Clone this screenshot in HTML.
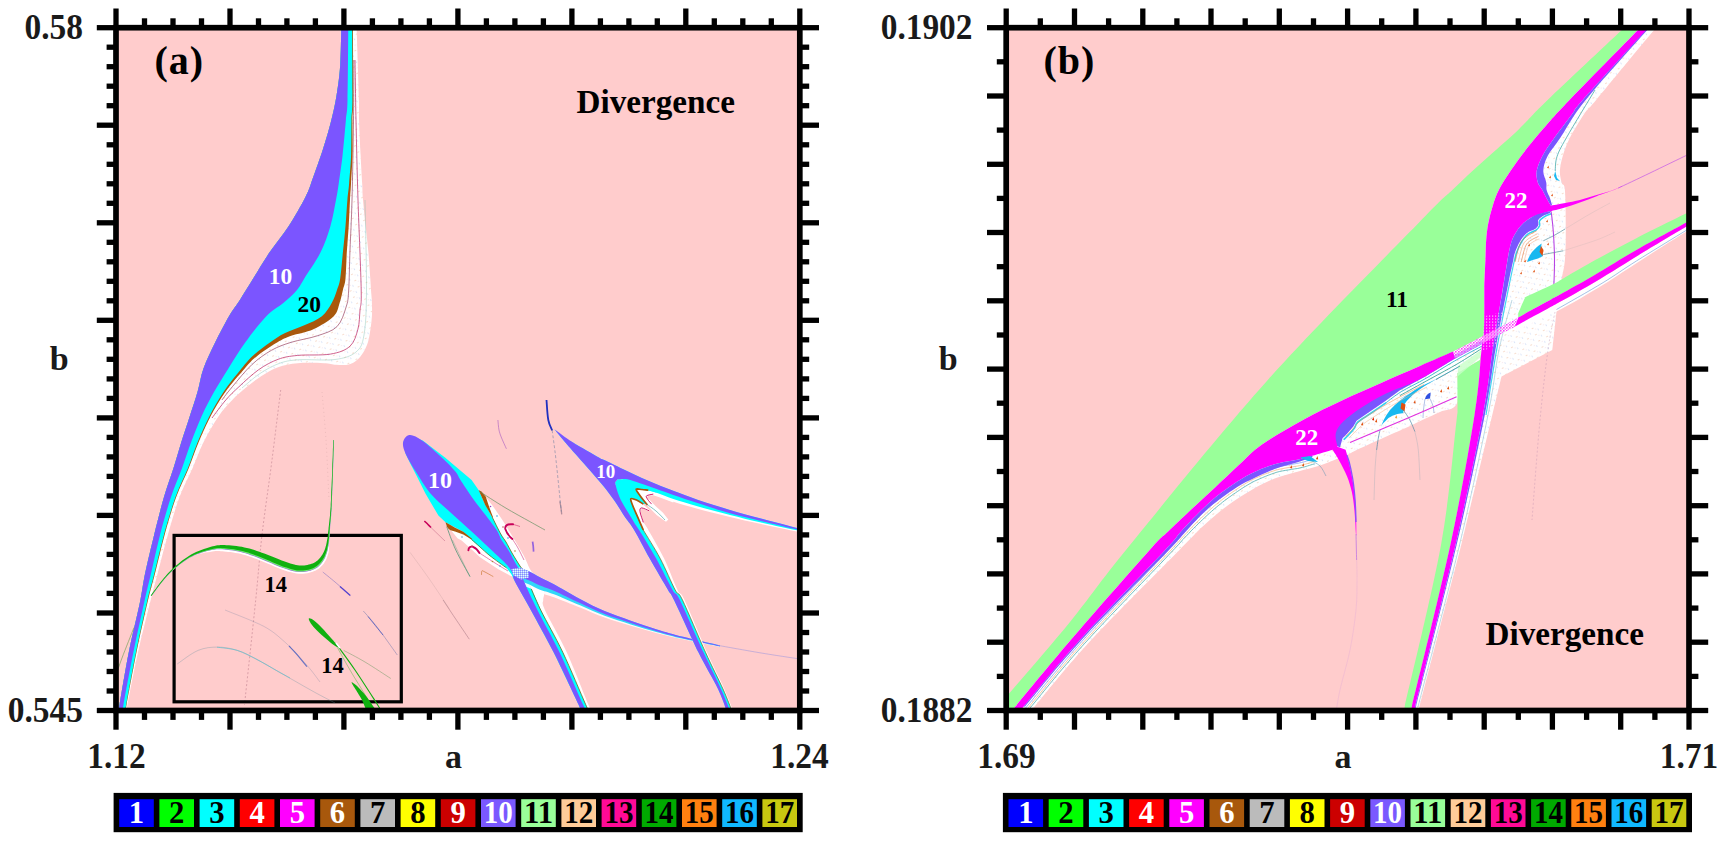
<!DOCTYPE html>
<html><head><meta charset="utf-8"><title>Figure</title>
<style>html,body{margin:0;padding:0;background:#fff}svg{display:block}</style></head>
<body>
<svg width="1725" height="841" viewBox="0 0 1725 841" font-family="'Liberation Serif', serif" font-weight="bold">
<defs><clipPath id="ca"><rect x="116" y="27.7" width="683.8" height="682.8"/></clipPath><clipPath id="cb"><rect x="1006.2" y="27.7" width="682.8" height="682.8"/></clipPath><pattern id="stip" width="3" height="3" patternUnits="userSpaceOnUse"><rect width="3" height="3" fill="#fff" opacity="0.55"/><rect width="1.6" height="1.6" fill="#FF40FF"/><rect x="1.6" y="1.6" width="1.4" height="1.4" fill="#FF70FF"/></pattern><pattern id="stipx" width="2" height="2" patternUnits="userSpaceOnUse"><rect width="2" height="2" fill="#A8C8FF"/><rect width="1" height="1" fill="#8888FF"/><rect x="1" y="1" width="1" height="1" fill="#E8F4FF"/></pattern><pattern id="dots" width="9" height="7" patternUnits="userSpaceOnUse" patternTransform="rotate(-28)"><circle cx="2" cy="1.5" r="0.55" fill="#E07030" opacity="0.55"/><circle cx="6.5" cy="5" r="0.5" fill="#5080E0" opacity="0.5"/><circle cx="4.2" cy="3.4" r="0.4" fill="#C04080" opacity="0.35"/></pattern><pattern id="stip2" width="3" height="3" patternUnits="userSpaceOnUse"><rect x="1" y="0.5" width="1.2" height="1.2" fill="#FFB0FF"/></pattern></defs>
<rect x="116" y="27.7" width="683.8" height="682.8" fill="#FFCCCC"/>
<rect x="1006.2" y="27.7" width="682.8" height="682.8" fill="#FFCCCC"/>
<g clip-path="url(#ca)"><path d="M341.4 20C341.2 27.5 341 52.6 340.2 65C339.4 77.4 338.2 85.1 336.7 94.5C335.2 103.9 333.3 112.5 331 121.6C328.7 130.7 326.1 139.4 323.1 148.8C320.1 158.2 315.8 170.1 312.9 178.1C310 186.1 309.6 189 305.5 197C301.4 205 294.6 217 288.6 226.2C282.6 235.4 275.5 243.6 269.6 252.3C263.7 261 258.1 270.6 253.2 278.5C248.3 286.4 244.2 293.1 240.2 299.4C236.2 305.7 233.2 309 229 316.2C224.8 323.4 219.6 333.6 215.3 342.3C211.1 351 206.5 360.2 203.5 368.5C200.5 376.8 199.8 384.1 197.5 392C195.2 399.9 192.5 407.8 189.8 416.2C187.1 424.6 184 433.6 181.3 442.3C178.6 451 176.3 459.4 173.4 468.5C170.5 477.6 167.2 486.1 164 497C160.8 507.9 157.5 521.5 154.3 534.2C151.2 547 147.5 562.2 145.1 573.5C142.7 584.8 142.7 588.9 140 602C137.3 615.1 132.2 635.2 128.8 652.3C125.4 669.4 121.3 694.6 119.6 704.6C117.9 714.6 118.7 710.8 118.5 712L126.3 712C126.5 710.8 125.5 714.6 127.5 704.6C129.4 694.6 134.2 669.4 138 652.3C141.8 635.2 146.9 615.1 150.2 602C153.5 588.9 154.6 584.8 157.6 573.5C160.6 562.2 164.3 547 168 534.2C171.7 521.5 175.4 507.9 179.5 497C183.6 486.1 188.4 477.6 192.4 468.5C196.4 459.4 199.1 451 203.5 442.3C207.9 433.6 213.8 423.2 218.6 416.2C223.4 409.1 227.8 404.7 232.3 400C236.8 395.3 240.6 392.1 245.4 388.1C250.2 384.2 255.7 379.8 261.1 376.3C266.6 372.8 272 369.4 278.1 367.2C284.2 365 290.1 363.9 297.7 363.2C305.3 362.5 317.5 362.9 323.9 363.2C330.3 363.5 331.9 364.6 336 364.8C340.1 365 345.2 365.4 348.7 364.6C352.2 363.8 354.6 362 357 360C359.4 358 361.3 355.8 363.1 352.8C364.9 349.8 366.8 346 368 342C369.2 338 369.8 333.5 370.5 329C371.2 324.5 371.8 319.8 372 315C372.2 310.2 372 304.2 371.8 300C371.6 295.8 371.2 293.6 371 290C370.8 286.4 370.7 284.8 370.3 278.5C369.9 272.2 369.2 261 368.4 252.3C367.6 243.6 366.6 234.9 365.7 226.2C364.8 217.5 363.6 207.1 363 200C362.4 192.9 362.6 191.2 362.2 183.7C361.8 176.2 361.1 165.6 360.6 155C360.1 144.4 359.3 129.2 359 120C358.7 110.8 359.3 115.5 358.9 100C358.5 84.5 357 39.2 356.6 27Z" fill="#FFFFFF" />
<path d="M341.4 20C341.2 27.5 341 52.6 340.2 65C339.4 77.4 338.2 85.1 336.7 94.5C335.2 103.9 333.3 112.5 331 121.6C328.7 130.7 326.1 139.4 323.1 148.8C320.1 158.2 315.8 170.1 312.9 178.1C310 186.1 309.6 189 305.5 197C301.4 205 294.6 217 288.6 226.2C282.6 235.4 275.5 243.6 269.6 252.3C263.7 261 258.1 270.6 253.2 278.5C248.3 286.4 244.2 293.1 240.2 299.4C236.2 305.7 233.2 309 229 316.2C224.8 323.4 219.6 333.6 215.3 342.3C211.1 351 206.5 360.2 203.5 368.5C200.5 376.8 199.8 384.1 197.5 392C195.2 399.9 192.5 407.8 189.8 416.2C187.1 424.6 184 433.6 181.3 442.3C178.6 451 176.3 459.4 173.4 468.5C170.5 477.6 167.2 486.1 164 497C160.8 507.9 157.5 521.5 154.3 534.2C151.2 547 147.5 562.2 145.1 573.5C142.7 584.8 142.7 588.9 140 602C137.3 615.1 132.2 635.2 128.8 652.3C125.4 669.4 121.3 694.6 119.6 704.6C117.9 714.6 118.7 710.8 118.5 712L126.3 712C126.5 710.8 125.5 714.6 127.5 704.6C129.4 694.6 134.2 669.4 138 652.3C141.8 635.2 146.9 615.1 150.2 602C153.5 588.9 154.6 584.8 157.6 573.5C160.6 562.2 164.3 547 168 534.2C171.7 521.5 175.4 507.9 179.5 497C183.6 486.1 188.4 477.6 192.4 468.5C196.4 459.4 199.1 451 203.5 442.3C207.9 433.6 213.8 423.2 218.6 416.2C223.4 409.1 227.8 404.7 232.3 400C236.8 395.3 240.6 392.1 245.4 388.1C250.2 384.2 255.7 379.8 261.1 376.3C266.6 372.8 272 369.4 278.1 367.2C284.2 365 290.1 363.9 297.7 363.2C305.3 362.5 317.5 362.9 323.9 363.2C330.3 363.5 331.9 364.6 336 364.8C340.1 365 345.2 365.4 348.7 364.6C352.2 363.8 354.6 362 357 360C359.4 358 361.3 355.8 363.1 352.8C364.9 349.8 366.8 346 368 342C369.2 338 369.8 333.5 370.5 329C371.2 324.5 371.8 319.8 372 315C372.2 310.2 372 304.2 371.8 300C371.6 295.8 371.2 293.6 371 290C370.8 286.4 370.7 284.8 370.3 278.5C369.9 272.2 369.2 261 368.4 252.3C367.6 243.6 366.6 234.9 365.7 226.2C364.8 217.5 363.6 207.1 363 200C362.4 192.9 362.6 191.2 362.2 183.7C361.8 176.2 361.1 165.6 360.6 155C360.1 144.4 359.3 129.2 359 120C358.7 110.8 359.3 115.5 358.9 100C358.5 84.5 357 39.2 356.6 27Z" fill="url(#dots)" />
<path d="M355 60C355.2 70 355.5 96.7 356 120C356.5 143.3 357.1 171.7 358 200C358.9 228.3 360.9 271.7 361.2 290C361.5 308.3 360.6 303.5 360 310C359.4 316.5 359.6 323.2 357.9 329.2C356.2 335.2 354.6 342 350 346.2C345.4 350.4 339.1 352.6 330.4 354.1C321.7 355.6 306.4 354.5 297.7 355.4C289 356.3 284.6 356.9 278.1 359.3C271.6 361.7 265 365.2 258.5 369.8C252 374.4 244.3 381.8 238.9 386.8C233.5 391.8 230.3 394.8 225.8 400C221.3 405.2 214.3 415 212 418" fill="none" stroke="#C0306A" stroke-width="0.9" opacity="0.85"/>
<path d="M353.8 60C353.8 70 353.8 96.7 353.5 120C353.2 143.3 352.6 178.3 352 200C351.4 221.7 350.6 235 350 250C349.4 265 349.3 280.5 348.7 290C348.1 299.5 348.1 300.9 346.1 307C344.2 313.1 341.8 321.8 337 326.6C332.2 331.4 324.9 333.2 317.3 335.8C309.7 338.4 298.8 339.9 291.2 342.3C283.6 344.7 278.2 346.5 271.6 350.2C265.1 353.9 258.4 358.5 251.9 364.6C245.3 370.7 237.3 380.9 232.3 386.8C227.3 392.7 223.6 397.8 221.9 400" fill="none" stroke="#903050" stroke-width="0.8" opacity="0.8"/>
<path d="M365 200C365.2 215 366.7 267.5 366.5 290C366.3 312.5 365.8 324.7 364 335C362.2 345.3 360.8 347.9 356 352C351.2 356.1 344.7 358.2 335 359.5C325.3 360.8 307.3 359.1 298 359.8C288.7 360.5 285.3 361.2 279 363.5C272.7 365.8 266.2 369.4 260 373.5C253.8 377.6 245 385.6 242 388" fill="none" stroke="#80C0B0" stroke-width="0.7" opacity="0.6"/>
<path d="M341.4 20C341.2 27.5 341 52.6 340.2 65C339.4 77.4 338.2 85.1 336.7 94.5C335.2 103.9 333.3 112.5 331 121.6C328.7 130.7 326.1 139.4 323.1 148.8C320.1 158.2 315.8 170.1 312.9 178.1C310 186.1 309.6 189 305.5 197C301.4 205 294.6 217 288.6 226.2C282.6 235.4 275.5 243.6 269.6 252.3C263.7 261 258.1 270.6 253.2 278.5C248.3 286.4 244.2 293.1 240.2 299.4C236.2 305.7 233.2 309 229 316.2C224.8 323.4 219.6 333.6 215.3 342.3C211.1 351 206.5 360.2 203.5 368.5C200.5 376.8 199.8 384.1 197.5 392C195.2 399.9 192.5 407.8 189.8 416.2C187.1 424.6 184 433.6 181.3 442.3C178.6 451 176.3 459.4 173.4 468.5C170.5 477.6 167.2 486.1 164 497C160.8 507.9 157.5 521.5 154.3 534.2C151.2 547 147.5 562.2 145.1 573.5C142.7 584.8 142.7 588.9 140 602C137.3 615.1 132.2 635.2 128.8 652.3C125.4 669.4 121.3 694.6 119.6 704.6C117.9 714.6 118.7 710.8 118.5 712L125.4 712C125.6 710.8 124.8 714.6 126.6 704.6C128.4 694.6 133 669.4 136.5 652.3C140 635.2 144.5 615.1 147.6 602C150.7 588.9 152.1 584.8 155 573.5C157.9 562.2 161.3 547 164.8 534.2C168.3 521.5 172.2 507.9 176.2 497C180.2 486.1 184.9 477.6 188.6 468.5C192.3 459.4 194.9 451 198.6 442.3C202.3 433.6 206.1 424.6 210.6 416.2C215.1 407.8 219.6 399.9 225.3 392C231 384.1 239.3 374.6 244.7 368.5C250.1 362.4 252.3 359.8 257.8 355.4C263.3 351 271.9 345.6 277.5 342.3C283.1 339 285.2 338 291.2 335.8C297.2 333.6 306.3 332.5 313.4 329.2C320.5 325.9 329.3 320.6 333.7 316.2C338.1 311.8 338.1 307.4 339.6 303C341.1 298.6 341.9 294.1 342.9 290C343.9 285.9 344.9 284.8 345.5 278.5C346.1 272.2 346.3 261 346.8 252.3C347.3 243.6 348.2 234.9 348.7 226.2C349.2 217.5 349.6 207.1 350 200C350.4 192.9 350.6 191.2 351 183.7C351.4 176.2 352.2 165.6 352.5 155C352.8 144.4 352.4 129.2 352.5 120C352.6 110.8 353.1 115.5 353.2 100C353.3 84.5 353 39.2 353 27Z" fill="#A8580C" />
<path d="M341.4 20C341.2 27.5 341 52.6 340.2 65C339.4 77.4 338.2 85.1 336.7 94.5C335.2 103.9 333.3 112.5 331 121.6C328.7 130.7 326.1 139.4 323.1 148.8C320.1 158.2 315.8 170.1 312.9 178.1C310 186.1 309.6 189 305.5 197C301.4 205 294.6 217 288.6 226.2C282.6 235.4 275.5 243.6 269.6 252.3C263.7 261 258.1 270.6 253.2 278.5C248.3 286.4 244.2 293.1 240.2 299.4C236.2 305.7 233.2 309 229 316.2C224.8 323.4 219.6 333.6 215.3 342.3C211.1 351 206.5 360.2 203.5 368.5C200.5 376.8 199.8 384.1 197.5 392C195.2 399.9 192.5 407.8 189.8 416.2C187.1 424.6 184 433.6 181.3 442.3C178.6 451 176.3 459.4 173.4 468.5C170.5 477.6 167.2 486.1 164 497C160.8 507.9 157.5 521.5 154.3 534.2C151.2 547 147.5 562.2 145.1 573.5C142.7 584.8 142.7 588.9 140 602C137.3 615.1 132.2 635.2 128.8 652.3C125.4 669.4 121.3 694.6 119.6 704.6C117.9 714.6 118.7 710.8 118.5 712L125 712C125.2 710.8 124.4 714.6 126.2 704.6C128 694.6 132.5 669.4 136 652.3C139.5 635.2 143.9 615.1 147 602C150.1 588.9 151.5 584.8 154.3 573.5C157.2 562.2 160.6 547 164.1 534.2C167.6 521.5 171.6 507.9 175.5 497C179.4 486.1 184.1 477.6 187.8 468.5C191.5 459.4 194 451 197.6 442.3C201.2 433.6 205.1 424.6 209.4 416.2C213.7 407.8 218.2 399.9 223.5 392C228.8 384.1 236.6 374.6 241.5 368.5C246.4 362.4 248.4 359.8 253.2 355.4C258 351 265.1 346 270.3 342.3C275.5 338.6 278.9 336 284.6 333.2C290.3 330.4 298.1 328.1 304.3 325.3C310.5 322.5 317.3 319.9 321.9 316.2C326.5 312.5 329.2 307.4 331.7 303C334.2 298.6 335.6 294.1 337 290C338.4 285.9 339.2 284.8 340.2 278.5C341.2 272.2 342 261 342.9 252.3C343.8 243.6 344.8 234.9 345.5 226.2C346.2 217.5 346.8 207.1 347.4 200C348 192.9 348.5 191.2 349.1 183.7C349.7 176.2 350.7 165.6 351.1 155C351.5 144.4 351.3 129.2 351.5 120C351.7 110.8 352.3 115.5 352.4 100C352.5 84.5 352.2 39.2 352.2 27Z" fill="#00FFFF" />
<path d="M341.4 20C341.2 27.5 341 52.6 340.2 65C339.4 77.4 338.2 85.1 336.7 94.5C335.2 103.9 333.3 112.5 331 121.6C328.7 130.7 326.1 139.4 323.1 148.8C320.1 158.2 315.8 170.1 312.9 178.1C310 186.1 309.6 189 305.5 197C301.4 205 294.6 217 288.6 226.2C282.6 235.4 275.5 243.6 269.6 252.3C263.7 261 258.1 270.6 253.2 278.5C248.3 286.4 244.2 293.1 240.2 299.4C236.2 305.7 233.2 309 229 316.2C224.8 323.4 219.6 333.6 215.3 342.3C211.1 351 206.5 360.2 203.5 368.5C200.5 376.8 199.8 384.1 197.5 392C195.2 399.9 192.5 407.8 189.8 416.2C187.1 424.6 184 433.6 181.3 442.3C178.6 451 176.3 459.4 173.4 468.5C170.5 477.6 167.2 486.1 164 497C160.8 507.9 157.5 521.5 154.3 534.2C151.2 547 147.5 562.2 145.1 573.5C142.7 584.8 142.7 588.9 140 602C137.3 615.1 132.2 635.2 128.8 652.3C125.4 669.4 121.3 694.6 119.6 704.6C117.9 714.6 118.7 710.8 118.5 712L122.3 712C122.5 710.8 121.7 714.6 123.5 704.6C125.3 694.6 129.9 669.4 133.4 652.3C136.9 635.2 141.4 615.1 144.3 602C147.2 588.9 148.3 584.8 151 573.5C153.7 562.2 156.9 547 160.2 534.2C163.5 521.5 167.4 507.9 171 497C174.6 486.1 178.6 477.6 181.9 468.5C185.2 459.4 187.8 451 191.1 442.3C194.4 433.6 197.8 424.6 201.6 416.2C205.4 407.8 209.5 399.9 214 392C218.5 384.1 223.2 376.8 228.4 368.5C233.6 360.2 239.1 351 245.4 342.3C251.7 333.6 260 322.8 266.3 316.2C272.6 309.6 278.2 307.4 283.3 303C288.4 298.6 293.5 294.1 297 290C300.5 285.9 300.4 284.8 304.3 278.5C308.2 272.2 316.2 261 320.6 252.3C325 243.6 327.8 234.9 330.4 226.2C333 217.5 334.6 207.1 336 200C337.4 192.9 337.6 191.2 338.7 183.7C339.8 176.2 341.4 165.6 342.6 155C343.8 144.4 345.1 129.2 345.9 120C346.7 110.8 347.1 115.5 347.5 100C347.9 84.5 348.2 39.2 348.3 27Z" fill="#7B55FF" />
<path d="M116 675C117 672.2 119 665.9 122 658C125 650.1 132 632.6 134 627.5" fill="none" stroke="#70A050" stroke-width="0.8" opacity="0.8"/>
<path d="M280.7 390C279.2 401.7 275.1 435.8 272 460C268.9 484.2 264.7 511.7 262 535C259.3 558.3 258.6 571.7 255.7 600C252.8 628.3 246.4 687.2 244.5 704.6" fill="none" stroke="#B07080" stroke-width="0.8" stroke-dasharray="2 2" opacity="0.6"/>
<path d="M322 392C322.7 400 324.8 422 326 440C327.2 458 328.5 490 329 500" fill="none" stroke="#D0A0A0" stroke-width="0.7" stroke-dasharray="1 3" opacity="0.6"/>
<rect x="174.1" y="535.4" width="227.2" height="166.4" fill="none" stroke="#000" stroke-width="3.2"/>
<path d="M151 595.7 L151.9 594.5 L153.1 592.8 L154.6 590.8 L156.2 588.6 L157.9 586.3 L159.6 584.1 L161.2 581.9 L162.8 580 L164.2 578.3 L165.6 576.7 L167 575.1 L168.4 573.6 L169.8 572.1 L171.3 570.6 L172.9 569.1 L174.6 567.6 L176.5 566 L178.4 564.4 L180.5 562.7 L182.6 561.1 L184.8 559.5 L187 557.9 L189.3 556.5 L191.6 555.2 L194 554 L196.5 552.9 L199 551.9 L201.6 550.9 L204.2 550 L206.7 549.3 L209 548.6 L211.2 548 L213.1 547.5 L214.8 547.2 L216.3 546.9 L217.8 546.7 L219.2 546.6 L220.7 546.6 L222.4 546.6 L224.3 546.7 L226.4 546.8 L228.7 547 L231.2 547.2 L233.7 547.5 L236.3 547.9 L238.8 548.3 L241.4 548.8 L243.9 549.3 L246.3 549.9 L248.8 550.6 L251.2 551.4 L253.7 552.2 L256.1 553.1 L258.6 554 L261.1 554.9 L263.5 555.8 L266 556.7 L268.5 557.8 L271 558.8 L273.5 559.9 L276 560.9 L278.4 561.9 L280.8 562.9 L283.1 563.7 L285.3 564.5 L287.4 565.2 L289.5 565.9 L291.6 566.5 L293.5 567 L295.5 567.5 L297.4 567.8 L299.2 568 L301 568.1 L302.8 568 L304.6 567.9 L306.3 567.6 L307.9 567.3 L309.5 566.9 L310.9 566.5 L312.3 566 L313.6 565.5 L314.7 564.9 L315.8 564.3 L316.7 563.5 L317.7 562.8 L318.5 562 L319.4 561.1 L320.2 560.2 L321 559.2 L321.8 558.2 L322.5 557.1 L323.1 556 L323.8 554.8 L324.3 553.6 L324.9 552.3 L325.4 551 L325.9 549.7 L326.3 548.3 L326.6 546.8 L326.9 545.3 L327.2 543.8 L327.5 542.3 L327.8 540.8 L328 539.2 L328.2 537.6 L328.4 536 L328.6 534.4 L328.7 532.8 L328.9 531.1 L329 529.5 L329.1 527.8 L329.3 526.2 L329.5 524.6 L329.6 522.9 L329.8 521.3 L330 519.7 L330.2 518 L330.3 516.4 L330.5 514.7 L330.6 513.1 L330.7 511.6 L330.8 510.2 L330.9 508.9 L331 507.6 L331 506.2 L331.1 504.5 L331.2 502.4 L331.3 500 L331.4 497.1 L331.6 493.7 L331.7 490 L331.9 486.1 L332 482 L332.2 477.9 L332.4 473.9 L332.5 470 L332.6 466 L332.8 461.8 L332.9 457.4 L333.1 453.1 L333.2 449.1 L333.3 445.4 L333.4 442.3 L333.5 440 L333.8 440 L333.8 442.3 L333.7 445.4 L333.6 449.1 L333.5 453.1 L333.3 457.4 L333.2 461.8 L333.1 466.1 L332.9 470 L332.8 473.9 L332.6 477.9 L332.5 482 L332.3 486.1 L332.2 490 L332 493.7 L331.9 497.1 L331.8 500 L331.7 502.5 L331.6 504.5 L331.5 506.2 L331.5 507.6 L331.4 509 L331.3 510.3 L331.3 511.6 L331.2 513.1 L331 514.8 L330.9 516.4 L330.8 518.1 L330.6 519.7 L330.5 521.4 L330.3 523 L330.1 524.6 L330 526.3 L329.9 527.9 L329.8 529.5 L329.7 531.2 L329.6 532.9 L329.5 534.5 L329.3 536.1 L329.2 537.8 L329 539.3 L329 541 L329.1 542.6 L329.1 544.2 L329.1 545.8 L329.1 547.4 L329 549 L328.9 550.6 L328.6 552.2 L328.2 553.7 L327.8 555.1 L327.3 556.6 L326.8 558 L326.2 559.4 L325.5 560.8 L324.7 562.1 L323.9 563.4 L323 564.5 L322.1 565.6 L321 566.6 L319.9 567.7 L318.7 568.7 L317.3 569.6 L315.8 570.4 L314.3 571.1 L312.6 571.7 L310.9 572.3 L309.1 572.8 L307.2 573.2 L305.2 573.5 L303.1 573.7 L301 573.8 L298.7 573.8 L296.5 573.5 L294.3 573.1 L292.1 572.6 L290 572 L287.8 571.4 L285.6 570.7 L283.4 569.9 L281.2 569.2 L278.8 568.3 L276.3 567.3 L273.8 566.2 L271.3 565.1 L268.8 564 L266.3 563 L263.9 562 L261.5 561 L259.1 560.1 L256.7 559.1 L254.3 558.2 L251.9 557.3 L249.6 556.5 L247.3 555.7 L245 555 L242.7 554.4 L240.4 553.8 L238 553.3 L235.5 552.9 L233.1 552.5 L230.6 552.1 L228.3 551.9 L226.1 551.7 L224.1 551.5 L222.3 551.3 L220.7 551.2 L219.4 551 L218.1 551 L216.9 551 L215.5 551.1 L214 551.3 L212.1 551.6 L210 551.9 L207.6 552.2 L205.1 552.6 L202.4 553.2 L199.8 553.8 L197.1 554.5 L194.6 555.3 L192.1 556.1 L189.8 557.4 L187.6 558.7 L185.3 560.2 L183.1 561.8 L181 563.4 L178.9 565 L176.9 566.6 L175.1 568.1 L173.3 569.6 L171.7 571.1 L170.3 572.6 L168.8 574 L167.5 575.5 L166.1 577.1 L164.7 578.7 L163.2 580.4 L161.7 582.3 L160 584.4 L158.3 586.7 L156.6 588.9 L155 591.1 L153.5 593.1 L152.3 594.8 L151.4 596 Z" fill="#FFFFFF" />
<path d="M151 595.7 L151.9 594.5 L153.1 592.8 L154.6 590.8 L156.2 588.6 L157.9 586.3 L159.6 584.1 L161.2 581.9 L162.8 580 L164.2 578.3 L165.6 576.7 L167 575.1 L168.4 573.6 L169.8 572.1 L171.3 570.6 L172.9 569.1 L174.6 567.6 L176.5 566 L178.4 564.4 L180.5 562.7 L182.6 561.1 L184.8 559.5 L187 557.9 L189.3 556.5 L191.6 555.2 L194 554 L196.5 552.9 L199 551.9 L201.6 550.9 L204.2 550 L206.7 549.3 L209 548.6 L211.2 548 L213.1 547.5 L214.8 547.2 L216.3 546.9 L217.8 546.7 L219.2 546.6 L220.7 546.6 L222.4 546.6 L224.3 546.7 L226.4 546.8 L228.7 547 L231.2 547.2 L233.7 547.5 L236.3 547.9 L238.8 548.3 L241.4 548.8 L243.9 549.3 L246.3 549.9 L248.8 550.6 L251.2 551.4 L253.7 552.2 L256.1 553.1 L258.6 554 L261.1 554.9 L263.5 555.8 L266 556.7 L268.5 557.8 L271 558.8 L273.5 559.9 L276 560.9 L278.4 561.9 L280.8 562.9 L283.1 563.7 L285.3 564.5 L287.4 565.2 L289.5 565.9 L291.6 566.5 L293.5 567 L295.5 567.5 L297.4 567.8 L299.2 568 L301 568.1 L302.8 568 L304.6 567.9 L306.3 567.6 L307.9 567.3 L309.5 566.9 L310.9 566.5 L312.3 566 L313.6 565.5 L314.7 564.9 L315.8 564.3 L316.7 563.5 L317.7 562.8 L318.5 562 L319.4 561.1 L320.2 560.2 L321 559.2 L321.8 558.2 L322.5 557.1 L323.1 556 L323.8 554.8 L324.3 553.6 L324.9 552.3 L325.4 551 L325.9 549.7 L326.3 548.3 L326.6 546.8 L326.9 545.3 L327.2 543.8 L327.5 542.3 L327.8 540.8 L328 539.2 L328.2 537.6 L328.4 536 L328.6 534.4 L328.7 532.8 L328.9 531.1 L329 529.5 L329.1 527.8 L329.3 526.2 L329.5 524.6 L329.6 522.9 L329.8 521.3 L330 519.7 L330.2 518 L330.3 516.4 L330.5 514.7 L330.6 513.1 L330.7 511.6 L330.8 510.2 L330.9 508.9 L331 507.6 L331 506.2 L331.1 504.5 L331.2 502.4 L331.3 500 L331.4 497.1 L331.6 493.7 L331.7 490 L331.9 486.1 L332 482 L332.2 477.9 L332.4 473.9 L332.5 470 L332.6 466 L332.8 461.8 L332.9 457.4 L333.1 453.1 L333.2 449.1 L333.3 445.4 L333.4 442.3 L333.5 440 L333.9 440 L333.9 442.3 L333.8 445.4 L333.7 449.1 L333.6 453.1 L333.4 457.4 L333.3 461.8 L333.2 466.1 L333 470 L332.9 473.9 L332.7 477.9 L332.6 482 L332.4 486.1 L332.3 490 L332.2 493.7 L332 497.1 L331.9 500 L331.8 502.5 L331.7 504.5 L331.7 506.2 L331.6 507.6 L331.6 509 L331.5 510.3 L331.4 511.6 L331.3 513.2 L331.2 514.8 L331.1 516.4 L330.9 518.1 L330.8 519.7 L330.6 521.4 L330.5 523 L330.3 524.7 L330.2 526.3 L330.1 527.9 L330 529.6 L329.9 531.2 L329.8 532.9 L329.7 534.5 L329.5 536.2 L329.4 537.8 L329.2 539.4 L329.1 541 L328.9 542.5 L328.7 544.1 L328.5 545.7 L328.2 547.2 L328 548.7 L327.6 550.2 L327.2 551.7 L326.8 553.1 L326.3 554.5 L325.8 555.8 L325.3 557.2 L324.7 558.5 L324 559.7 L323.2 561 L322.5 562.1 L321.6 563.2 L320.8 564.3 L319.8 565.3 L318.8 566.2 L317.7 567.2 L316.5 568 L315.1 568.8 L313.6 569.6 L312.1 570.1 L310.5 570.7 L308.8 571.1 L306.9 571.5 L305 571.8 L303 572.1 L301 572.1 L298.9 572.1 L296.8 571.8 L294.6 571.5 L292.5 571 L290.4 570.4 L288.3 569.8 L286.2 569.1 L284 568.3 L281.7 567.6 L279.4 566.7 L276.9 565.7 L274.5 564.7 L272 563.6 L269.5 562.5 L267 561.4 L264.5 560.4 L262.1 559.5 L259.7 558.5 L257.3 557.6 L254.9 556.6 L252.5 555.7 L250.1 554.9 L247.8 554.1 L245.4 553.3 L243.1 552.7 L240.7 552.1 L238.3 551.6 L235.8 551.1 L233.3 550.6 L230.8 550.3 L228.5 549.9 L226.3 549.7 L224.2 549.5 L222.3 549.3 L220.7 549.2 L219.3 549.2 L218 549.2 L216.6 549.2 L215.2 549.4 L213.6 549.7 L211.7 550 L209.6 550.5 L207.2 551.1 L204.8 551.8 L202.2 552.5 L199.6 553.4 L197.1 554.3 L194.6 555.3 L192.2 556.4 L190 557.6 L187.7 558.9 L185.5 560.4 L183.3 561.9 L181.1 563.5 L179 565.1 L177.1 566.7 L175.2 568.3 L173.5 569.8 L171.9 571.2 L170.4 572.7 L169 574.1 L167.6 575.6 L166.2 577.2 L164.8 578.8 L163.3 580.4 L161.8 582.3 L160.1 584.5 L158.4 586.7 L156.7 589 L155.1 591.2 L153.6 593.2 L152.4 594.8 L151.5 596.1 Z" fill="#9868E0" />
<path d="M151 595.7 L151.9 594.5 L153.1 592.8 L154.6 590.8 L156.2 588.6 L157.9 586.3 L159.6 584.1 L161.2 581.9 L162.8 580 L164.2 578.3 L165.6 576.7 L167 575.1 L168.4 573.6 L169.8 572.1 L171.3 570.6 L172.9 569.1 L174.6 567.6 L176.5 566 L178.4 564.4 L180.5 562.7 L182.6 561.1 L184.8 559.5 L187 557.9 L189.3 556.5 L191.6 555.2 L194 554 L196.5 552.9 L199 551.9 L201.6 550.9 L204.2 550 L206.7 549.3 L209 548.6 L211.2 548 L213.1 547.5 L214.8 547.2 L216.3 546.9 L217.8 546.7 L219.2 546.6 L220.7 546.6 L222.4 546.6 L224.3 546.7 L226.4 546.8 L228.7 547 L231.2 547.2 L233.7 547.5 L236.3 547.9 L238.8 548.3 L241.4 548.8 L243.9 549.3 L246.3 549.9 L248.8 550.6 L251.2 551.4 L253.7 552.2 L256.1 553.1 L258.6 554 L261.1 554.9 L263.5 555.8 L266 556.7 L268.5 557.8 L271 558.8 L273.5 559.9 L276 560.9 L278.4 561.9 L280.8 562.9 L283.1 563.7 L285.3 564.5 L287.4 565.2 L289.5 565.9 L291.6 566.5 L293.5 567 L295.5 567.5 L297.4 567.8 L299.2 568 L301 568.1 L302.8 568 L304.6 567.9 L306.3 567.6 L307.9 567.3 L309.5 566.9 L310.9 566.5 L312.3 566 L313.6 565.5 L314.7 564.9 L315.8 564.3 L316.7 563.5 L317.7 562.8 L318.5 562 L319.4 561.1 L320.2 560.2 L321 559.2 L321.8 558.2 L322.5 557.1 L323.1 556 L323.8 554.8 L324.3 553.6 L324.9 552.3 L325.4 551 L325.9 549.7 L326.3 548.3 L326.6 546.8 L326.9 545.3 L327.2 543.8 L327.5 542.3 L327.8 540.8 L328 539.2 L328.2 537.6 L328.4 536 L328.6 534.4 L328.7 532.8 L328.9 531.1 L329 529.5 L329.1 527.8 L329.3 526.2 L329.5 524.6 L329.6 522.9 L329.8 521.3 L330 519.7 L330.2 518 L330.3 516.4 L330.5 514.7 L330.6 513.1 L330.7 511.6 L330.8 510.2 L330.9 508.9 L331 507.6 L331 506.2 L331.1 504.5 L331.2 502.4 L331.3 500 L331.4 497.1 L331.6 493.7 L331.7 490 L331.9 486.1 L332 482 L332.2 477.9 L332.4 473.9 L332.5 470 L332.6 466 L332.8 461.8 L332.9 457.4 L333.1 453.1 L333.2 449.1 L333.3 445.4 L333.4 442.3 L333.5 440 L333.9 440 L333.8 442.3 L333.7 445.4 L333.6 449.1 L333.5 453.1 L333.4 457.4 L333.2 461.8 L333.1 466.1 L332.9 470 L332.8 473.9 L332.7 477.9 L332.5 482 L332.4 486.1 L332.2 490 L332.1 493.7 L331.9 497.1 L331.8 500 L331.7 502.5 L331.6 504.5 L331.6 506.2 L331.5 507.6 L331.5 509 L331.4 510.3 L331.3 511.6 L331.2 513.1 L331.1 514.8 L331 516.4 L330.8 518.1 L330.7 519.7 L330.5 521.4 L330.3 523 L330.2 524.6 L330 526.3 L329.9 527.9 L329.8 529.6 L329.7 531.2 L329.6 532.9 L329.5 534.5 L329.4 536.1 L329.2 537.8 L329 539.4 L328.9 540.9 L328.7 542.5 L328.5 544.1 L328.3 545.6 L328 547.1 L327.7 548.7 L327.4 550.1 L326.9 551.6 L326.5 553 L326.1 554.3 L325.5 555.7 L325 557 L324.3 558.3 L323.7 559.5 L322.9 560.7 L322.1 561.9 L321.3 562.9 L320.5 563.9 L319.5 564.9 L318.5 565.9 L317.4 566.8 L316.2 567.6 L314.9 568.4 L313.5 569.1 L312 569.7 L310.4 570.2 L308.6 570.6 L306.8 571 L305 571.3 L303 571.6 L301 571.6 L298.9 571.6 L296.8 571.4 L294.7 571 L292.7 570.5 L290.6 569.9 L288.4 569.3 L286.3 568.6 L284.1 567.9 L281.9 567.1 L279.6 566.2 L277.1 565.2 L274.6 564.2 L272.2 563.1 L269.7 562 L267.2 561 L264.7 559.9 L262.3 559 L259.9 558 L257.5 557.1 L255 556.1 L252.7 555.2 L250.3 554.4 L247.9 553.6 L245.6 552.9 L243.2 552.2 L240.8 551.6 L238.4 551.1 L235.9 550.6 L233.4 550.2 L230.9 549.8 L228.5 549.5 L226.3 549.3 L224.2 549.1 L222.3 549 L220.7 548.9 L219.3 548.8 L217.9 548.8 L216.6 548.9 L215.2 549.1 L213.5 549.4 L211.7 549.7 L209.5 550.2 L207.2 550.8 L204.7 551.5 L202.1 552.3 L199.5 553.1 L197 554.1 L194.5 555.1 L192.1 556.2 L189.9 557.4 L187.6 558.8 L185.4 560.3 L183.2 561.8 L181 563.4 L179 565 L177 566.6 L175.1 568.2 L173.4 569.7 L171.8 571.1 L170.3 572.6 L168.9 574.1 L167.5 575.5 L166.1 577.1 L164.7 578.7 L163.3 580.4 L161.7 582.3 L160 584.4 L158.3 586.7 L156.6 589 L155 591.1 L153.6 593.1 L152.3 594.8 L151.4 596 Z" fill="#70F070" />
<path d="M150.7 595.5 L151.6 594.3 L152.8 592.6 L154.3 590.6 L155.9 588.4 L157.6 586.1 L159.3 583.8 L160.9 581.7 L162.5 579.7 L163.9 578 L165.3 576.4 L166.7 574.8 L168 573.3 L169.5 571.8 L171 570.3 L172.5 568.8 L174.3 567.2 L176.1 565.6 L178.1 563.9 L180.1 562.3 L182.2 560.6 L184.4 558.9 L186.7 557.4 L188.9 555.9 L191.2 554.5 L193.6 553.3 L196.1 552.1 L198.7 551 L201.3 550 L203.9 549.1 L206.4 548.2 L208.7 547.5 L210.9 546.8 L212.8 546.3 L214.5 545.9 L216.1 545.6 L217.6 545.3 L219.1 545.2 L220.7 545.1 L222.4 545.1 L224.4 545.1 L226.5 545.2 L228.9 545.3 L231.4 545.5 L233.9 545.7 L236.5 546 L239.2 546.4 L241.8 546.8 L244.4 547.4 L246.9 547.9 L249.4 548.6 L251.9 549.3 L254.4 550.1 L256.9 551 L259.4 551.8 L261.9 552.7 L264.3 553.6 L266.9 554.5 L269.4 555.5 L272 556.5 L274.5 557.6 L277 558.6 L279.4 559.6 L281.7 560.5 L284 561.2 L286.1 562 L288.3 562.7 L290.3 563.4 L292.3 564 L294.2 564.5 L296 564.9 L297.7 565.2 L299.4 565.4 L301 565.5 L302.7 565.5 L304.3 565.4 L305.8 565.2 L307.4 565 L308.8 564.6 L310.2 564.3 L311.5 563.8 L312.6 563.5 L313.7 563 L314.6 562.5 L315.5 562 L316.4 561.3 L317.2 560.7 L318.1 559.9 L318.9 559.1 L319.7 558.2 L320.5 557.3 L321.2 556.3 L321.9 555.3 L322.6 554.2 L323.2 553 L323.8 551.9 L324.4 550.6 L324.9 549.3 L325.3 548 L325.7 546.6 L326.1 545.2 L326.4 543.7 L326.7 542.2 L327 540.6 L327.3 539.1 L327.6 537.5 L327.8 536 L328 534.4 L328.1 532.7 L328.3 531.1 L328.5 529.4 L328.6 527.8 L328.8 526.2 L329 524.5 L329.2 522.9 L329.4 521.2 L329.5 519.6 L329.7 518 L329.9 516.3 L330.1 514.7 L330.2 513.1 L330.3 511.5 L330.4 510.2 L330.5 508.9 L330.6 507.6 L330.7 506.1 L330.7 504.4 L330.8 502.4 L331 500 L331.1 497 L331.2 493.7 L331.4 490 L331.6 486 L331.7 482 L331.9 477.9 L332.1 473.9 L332.2 470 L332.3 466 L332.5 461.8 L332.7 457.4 L332.8 453.1 L332.9 449 L333.1 445.4 L333.2 442.3 L333.3 440 L333.7 440 L333.7 442.3 L333.6 445.4 L333.5 449.1 L333.3 453.1 L333.2 457.4 L333.1 461.8 L332.9 466.1 L332.8 470 L332.7 473.9 L332.5 477.9 L332.4 482 L332.2 486.1 L332.1 490 L331.9 493.7 L331.8 497.1 L331.6 500 L331.5 502.5 L331.5 504.5 L331.4 506.2 L331.3 507.6 L331.3 509 L331.2 510.2 L331.1 511.6 L331 513.1 L330.9 514.8 L330.7 516.4 L330.6 518.1 L330.4 519.7 L330.3 521.3 L330.1 523 L330 524.6 L329.8 526.2 L329.7 527.9 L329.6 529.5 L329.4 531.2 L329.3 532.8 L329.2 534.5 L329.1 536.1 L328.9 537.7 L328.7 539.3 L328.5 540.9 L328.3 542.4 L328.1 544 L327.8 545.5 L327.5 547 L327.2 548.5 L326.9 550 L326.4 551.4 L326 552.7 L325.5 554.1 L324.9 555.4 L324.4 556.7 L323.7 557.9 L323 559.1 L322.3 560.2 L321.5 561.3 L320.7 562.3 L319.8 563.3 L318.9 564.2 L318 565.1 L316.9 566 L315.7 566.8 L314.5 567.5 L313.1 568.2 L311.6 568.7 L310.1 569.2 L308.4 569.7 L306.7 570 L304.8 570.3 L302.9 570.6 L301 570.6 L299 570.6 L297 570.4 L294.9 570 L292.9 569.5 L290.8 569 L288.7 568.3 L286.6 567.6 L284.5 566.9 L282.2 566.2 L279.9 565.3 L277.5 564.3 L275 563.3 L272.5 562.2 L270 561.1 L267.5 560 L265.1 559 L262.7 558 L260.2 557.1 L257.8 556.1 L255.4 555.2 L253 554.3 L250.6 553.4 L248.2 552.6 L245.8 551.9 L243.4 551.2 L241 550.7 L238.5 550.2 L236 549.7 L233.5 549.3 L231 549 L228.6 548.7 L226.3 548.5 L224.2 548.3 L222.4 548.2 L220.7 548.1 L219.3 548.1 L217.9 548.1 L216.5 548.2 L215 548.4 L213.4 548.7 L211.5 549.2 L209.4 549.7 L207 550.3 L204.5 551 L202 551.8 L199.4 552.7 L196.8 553.7 L194.3 554.7 L192 555.9 L189.7 557.1 L187.4 558.5 L185.2 560 L183 561.6 L180.8 563.2 L178.8 564.8 L176.8 566.4 L174.9 568 L173.2 569.5 L171.6 571 L170.1 572.4 L168.7 573.9 L167.3 575.4 L165.9 576.9 L164.6 578.6 L163.1 580.3 L161.6 582.2 L159.9 584.3 L158.2 586.6 L156.5 588.8 L154.9 591 L153.4 593 L152.2 594.7 L151.3 595.9 Z" fill="#10B010" />
<path d="M309 618.3C309.7 618 311.8 618.9 314 620.5C316.2 622.1 319.2 625.1 322 628C324.8 630.9 328.2 634.8 331 638C333.8 641.2 338.2 645.9 338.5 647C338.8 648.1 335.4 646.2 333 644.5C330.6 642.8 327 639.7 324 637C321 634.3 317.3 631 315 628.5C312.7 626 311 623.7 310 622C309 620.3 308.3 618.5 309 618.3Z" fill="#10B010" />
<path d="M338.5 647C341.2 650.8 348.9 661 355 670C361.1 679 370.5 693.7 375 700.7C379.5 707.7 380.8 710.1 382 712" fill="none" stroke="#10B010" stroke-width="1.1" />
<path d="M336 645C338.3 649.2 344.6 660.7 350 670C355.4 679.3 364.6 693.7 368.6 700.7C372.6 707.7 373.1 710.1 374 712" fill="none" stroke="#10B010" stroke-width="0.7" opacity="0.5"/>
<path d="M336 643C336.7 643.8 339.3 647.2 340 648" fill="none" stroke="#FFFFFF" stroke-width="1.5" />
<path d="M351.6 682.4C351.9 681.9 355.6 684.7 358 687C360.4 689.3 363.5 692.8 366 696C368.5 699.2 371.2 703.3 373 706C374.8 708.7 377.8 711 377 712C376.2 713 370.5 714 368 712C365.5 710 364 703.7 362 700C360 696.3 357.7 692.9 356 690C354.3 687.1 351.3 682.9 351.6 682.4Z" fill="#10B010" />
<path d="M343.7 650.4C347.2 652.3 357.1 657.3 365 662C372.9 666.7 386.5 675.8 390.8 678.5" fill="none" stroke="#80A070" stroke-width="0.8" opacity="0.7"/>
<path d="M177.2 664C180.7 661.7 191.3 653.2 198.1 650.4C204.8 647.6 211.2 647.1 217.7 647.1C224.2 647.1 230.8 648.3 237.3 650.4C243.9 652.5 250.4 656.1 257 659.5C263.6 662.9 270.1 666.9 276.6 670.6C283.1 674.3 289.7 678.1 296.2 681.8C302.7 685.5 309.3 689.4 315.8 692.9C322.3 696.4 331.8 701.3 335 703" fill="none" stroke="#6090A0" stroke-width="0.7" opacity="0.45"/>
<path d="M217 647.2C220.4 647.7 230.6 648.4 237.3 650.4C244 652.4 250.4 656.1 257 659.5C263.6 662.9 271.1 667.5 276.6 670.6C282.1 673.7 287.8 676.8 290 678" fill="none" stroke="#50C0D0" stroke-width="1.0" opacity="0.6"/>
<path d="M225 610C231.4 612.7 253.8 621.1 263.5 626.2C273.2 631.3 277.7 635.9 283.1 640.5C288.6 645.1 291.8 649 296.2 653.6C300.6 658.2 305.3 663.3 309.3 668C313.3 672.7 318.2 679.7 320 682" fill="none" stroke="#7080A0" stroke-width="0.7" opacity="0.4"/>
<path d="M289 646C290.2 647.3 293.2 650.1 296.2 653.6C299.2 657.1 305.2 664.5 307 666.7" fill="none" stroke="#3050C0" stroke-width="1.2" opacity="0.7"/>
<path d="M322.8 572C324.8 573.7 330.4 578.1 335 582C339.6 585.9 347.8 593.2 350.3 595.5" fill="none" stroke="#8070C0" stroke-width="0.8" opacity="0.7"/>
<path d="M340 586.5C341.7 588 348.6 594 350.3 595.5" fill="none" stroke="#4030D0" stroke-width="1.3" opacity="0.85"/>
<path d="M363.3 611C364.9 612.8 369.7 618 373 622C376.3 626 378.9 629.5 383 635C387.1 640.5 394.9 651.7 397.3 655" fill="none" stroke="#8080B0" stroke-width="0.8" opacity="0.7"/>
<path d="M368 616.5C370.5 619.6 380.5 631.9 383 635" fill="none" stroke="#4050C0" stroke-width="1.0" opacity="0.7"/>
<path d="M443.1 600C445.1 603 450.6 611.5 455 618C459.4 624.5 466.9 635.7 469.3 639.2" fill="none" stroke="#906070" stroke-width="0.8" opacity="0.55"/>
<path d="M479.1 490.8C479.9 492.8 481.9 498.1 484.1 502.5C486.3 506.9 489.6 512.2 492.4 517.5C495.2 522.8 498.5 530 500.8 534.1C503.1 538.2 504.1 538.9 506 542C507.9 545.1 509.7 549 512 553C514.3 557 517.7 562.5 520 566C522.3 569.5 524.6 571.4 526 574C527.4 576.6 525.8 575.6 528.3 581.6C530.8 587.6 535 598.2 540.7 610C546.5 621.8 555.3 636.5 562.8 652.3C570.3 668.1 581.3 694.6 585.7 704.6C590.1 714.6 588.5 710.8 589 712L591.5 712C591 710.8 592.4 714.6 588.3 704.6C584.2 694.6 573.9 668.1 566.7 652.3C559.5 636.5 548.8 618.7 544.9 610C541 601.3 543.4 602.8 543.2 600C543.1 597.2 544.5 596.4 544 593.3C543.5 590.2 541.5 584.5 540 581.6C538.5 578.7 536.7 578.1 535 576C533.3 573.9 531.6 572.1 529.9 569.1C528.2 566.1 526.6 561.2 525 558C523.4 554.8 522.8 554 520.5 550C518.2 546 514 539.1 511 534.1C508 529.1 505.3 524.4 502.4 520C499.5 515.6 496.9 511.7 493.8 507.5C490.8 503.3 485.7 497.1 484.1 495Z" fill="#FFFFFF" />
<path d="M450 529.1 L463.3 533 L470.8 539.3 L480 547 L490 555.8 L506.6 568 L514 577 L510.8 576 L498.3 569.3 L480 557.2 L469 547 L461.6 540.5 L457.5 538.3 Z" fill="#FFFFFF" />
<path d="M409.6 435 L422.7 440.5 L445 457.5 L458 468.5 L471.6 480 L479.1 490.8 L484.1 502.5 L492.4 517.5 L500.8 534.1 L506 542 L512 553 L520 566 L526 574 L528.3 581.6 L540.7 610 L562.8 652.3 L585.7 704.6 L589 712 L581.3 712 L578.5 704.6 L553.6 652.3 L530.8 610 L514.9 581.6 L511.5 574.5 L506.6 568 L490 555.8 L480 547 L470.8 539.3 L463.3 531.8 L445.8 522.5 L438.4 515.5 L431 503 L425.3 493.2 L416.2 475 L410 463 L405.7 454 L403.1 442.2 Z" fill="#00FFFF" />
<path d="M478.7 490.3 L481.5 491.5 L485.8 496.7 L488.5 505 L491.5 513.3 L493.2 517.5 L492.4 517.8 L490 513.3 L485.2 505 L481.6 496.7 Z" fill="#A8580C" />
<path d="M492.4 517.5C493.8 520.3 498.5 530 500.8 534.1C503.1 538.2 504.1 538.9 506 542C507.9 545.1 509.7 549 512 553C514.3 557 517.7 562.5 520 566C522.3 569.5 524.6 571.4 526 574C527.4 576.6 525.8 575.6 528.3 581.6C530.8 587.6 535 598.2 540.7 610C546.5 621.8 555.3 636.5 562.8 652.3C570.3 668.1 581.3 694.6 585.7 704.6C590.1 714.6 588.5 710.8 589 712" fill="none" stroke="#707020" stroke-width="0.9" opacity="0.9"/>
<path d="M445.5 522.3 L450.8 525.2 L455 527.8 L463.3 531.8 L472 538.8 L472 539.8 L463.3 534.4 L455 531.6 L450.5 530.2 L448.5 528.8 L447 526.8 Z" fill="#A8580C" />
<path d="M472 539.8C473.3 541 477 544.3 480 547C483 549.7 485.6 552.3 490 555.8C494.4 559.3 503.8 566 506.6 568" fill="none" stroke="#508030" stroke-width="0.9" opacity="0.9"/>
<path d="M478.9 491C483.2 493.8 496.4 502.4 504.9 507.5C513.4 512.6 523.2 517.9 529.9 521.6C536.6 525.4 542.5 528.6 545 530" fill="none" stroke="#609060" stroke-width="0.9" opacity="0.75"/>
<path d="M446.7 526.6C448.2 530.5 451.9 541.7 455.8 550C459.7 558.3 467.6 572.2 470 576.6" fill="none" stroke="#409070" stroke-width="0.9" opacity="0.8"/>
<path d="M452.5 540C453.8 542.7 457.1 549.9 460 556C462.9 562.1 468.3 573.2 470 576.6" fill="none" stroke="#409070" stroke-width="0.6" opacity="0.5"/>
<path d="M521 568.2C522.5 568.8 526.8 570.2 529.9 571.7C533 573.2 535.9 575.1 539.9 577.2C543.9 579.3 547.2 580.6 553.9 584.2C560.6 587.8 571.5 594.5 580 599C588.5 603.5 596.1 607.5 604.6 611.1C613.1 614.7 622.1 617.7 630.8 620.7C639.5 623.8 648.3 626.7 657 629.4C665.7 632.1 672.6 634.1 683.1 636.8C693.6 639.5 713.9 644 720 645.4L720 646.8C713.9 645.5 693.6 641.6 683.1 639.3C672.6 637 665.7 635.5 657 633.2C648.3 631 639.5 628.4 630.8 625.8C622.1 623.2 613.1 620.6 604.6 617.6C596.1 614.6 588.5 610.9 580 607.5C571.5 604.1 560.6 599.6 553.9 597.2C547.2 594.8 543.9 594.5 539.9 593C535.9 591.5 533 589.5 529.9 588.2C526.8 586.9 522.5 585.7 521 585.2Z" fill="#FFFFFF" opacity="0.9"/>
<path d="M521 568.2C522.5 568.8 526.8 570.2 529.9 571.7C533 573.2 535.9 575.1 539.9 577.2C543.9 579.3 547.2 580.6 553.9 584.2C560.6 587.8 571.5 594.5 580 599C588.5 603.5 596.1 607.5 604.6 611.1C613.1 614.7 622.1 617.7 630.8 620.7C639.5 623.8 648.3 626.7 657 629.4C665.7 632.1 672.6 634.1 683.1 636.8C693.6 639.5 713.9 644 720 645.4L720 646.6C713.9 645.3 693.6 641.2 683.1 638.8C672.6 636.4 665.7 634.6 657 632.2C648.3 629.8 639.5 627.1 630.8 624.4C622.1 621.7 613.1 619 604.6 615.8C596.1 612.6 588.5 608.9 580 605.3C571.5 601.7 560.6 596.8 553.9 594.2C547.2 591.6 543.9 591.3 539.9 589.7C535.9 588.1 533 586.1 529.9 584.7C526.8 583.3 522.5 581.8 521 581.2Z" fill="#30D8F8" />
<path d="M521 568.2C522.5 568.8 526.8 570.2 529.9 571.7C533 573.2 535.9 575.1 539.9 577.2C543.9 579.3 547.2 580.6 553.9 584.2C560.6 587.8 571.5 594.5 580 599C588.5 603.5 596.1 607.5 604.6 611.1C613.1 614.7 622.1 617.7 630.8 620.7C639.5 623.8 648.3 626.7 657 629.4C665.7 632.1 672.6 634.1 683.1 636.8C693.6 639.5 713.9 644 720 645.4L720 646.3C713.9 644.9 693.6 640.7 683.1 638.2C672.6 635.7 665.7 633.7 657 631.2C648.3 628.7 639.5 625.9 630.8 623C622.1 620.1 613.1 617.4 604.6 614.1C596.1 610.8 588.5 607 580 603.1C571.5 599.2 560.6 593.6 553.9 590.7C547.2 587.8 543.9 587.2 539.9 585.5C535.9 583.8 533 582.1 529.9 580.7C526.8 579.3 522.5 577.8 521 577.2Z" fill="#7B55FF" />
<path d="M718 645.4C725 646.6 746.3 650.5 760 652.8C773.7 655.1 793.3 658 800 659" fill="none" stroke="#9090E0" stroke-width="0.9" opacity="0.55"/>
<path d="M409.6 435C412.9 434.8 417.2 437.1 422.7 440.9C428.1 444.7 436.9 452.8 442.3 457.9C447.8 463 452.4 467.8 455.4 471.5C458.4 475.2 457.8 475.8 460.5 480C463.2 484.2 467.7 491.1 471.6 496.7C475.5 502.2 479.9 507.7 484.1 513.3C488.3 518.8 493.7 525.5 496.6 530C499.5 534.5 499.6 536.7 501.5 540C503.4 543.3 505.8 545.8 508.3 550C510.8 554.2 514.5 561.3 516.6 565C518.7 568.7 519.8 569.2 521 572C522.2 574.8 521.4 575.3 524.1 581.6C526.8 587.9 531.5 598.2 537.4 610C543.3 621.8 551.9 636.5 559.5 652.3C567.1 668.1 578.5 694.6 583 704.6C587.5 714.6 586.6 710.8 586.3 712C586 713.2 582.6 713.2 581.3 712C580 710.8 583.1 714.6 578.5 704.6C573.9 694.6 561.6 668.1 553.6 652.3C545.6 636.5 537.2 621.8 530.8 610C524.3 598.2 517.9 587.6 514.9 581.6C511.9 575.6 514 576.7 512.8 574C511.6 571.3 510.8 569.2 507.5 565.5C504.2 561.8 497.5 555.8 493 551.5C488.5 547.2 485.4 544.4 480.5 539.8C475.6 535.2 468.9 529.2 463.3 524.1C457.7 519 452.2 514.3 446.7 509.1C441.1 503.9 435.1 499.1 430 493C424.9 486.9 420.2 478.8 416.2 472.3C412.1 465.8 407.9 459 405.7 454C403.5 449 402.5 445.4 403.1 442.2C403.8 439 406.3 435.2 409.6 435Z" fill="#7B55FF" />
<path d="M511.5 569 L520 567.5 L528.5 571 L529 577.5 L521 579.5 L513 575 Z" fill="url(#stipx)" />
<path d="M513 524.3 Q504.5 523.5 505.3 529 Q507 534.5 512.4 539" fill="none" stroke="#C8005A" stroke-width="1.9" stroke-linecap="round"/>
<path d="M513 524.3C514.2 524.7 518.8 526.1 520 526.5" fill="none" stroke="#C8005A" stroke-width="0.7" opacity="0.7"/>
<path d="M512.4 539C513.3 540.5 516.1 544.5 518 548C519.9 551.5 523 558 524 560" fill="none" stroke="#C8005A" stroke-width="0.7" opacity="0.7"/>
<path d="M468.4 550.3 Q468.6 546 473 546.8 Q477 548.5 479.5 553" fill="none" stroke="#C8005A" stroke-width="1.9" stroke-linecap="round"/>
<path d="M479.5 553C482.1 554.7 490.2 560 495 563C499.8 566 505.8 569.7 508 571" fill="none" stroke="#C8005A" stroke-width="0.7" opacity="0.7"/>
<path d="M424.4 521C425 521.6 426.9 523.4 428 524.5C429.1 525.6 430.5 527 431 527.5" fill="none" stroke="#C8005A" stroke-width="1.6" />
<path d="M431 527.5C433.3 529.8 442.7 538.8 445 541" fill="none" stroke="#C06080" stroke-width="0.7" opacity="0.7"/>
<path d="M532.6 541.7C532.7 542.4 533 544.3 533.2 546C533.4 547.7 533.5 550.8 533.6 551.7" fill="none" stroke="#8050E0" stroke-width="1.7" opacity="0.85"/>
<path d="M559.8 501.3C560 502.4 560.7 505.8 561 508C561.3 510.2 561.6 513.3 561.7 514.4" fill="none" stroke="#A08090" stroke-width="1.3" opacity="0.8"/>
<path d="M481.5 575C481.6 574.3 481.4 571.6 481.8 571C482.2 570.4 482.1 570.6 484 571.5C485.9 572.4 491.8 575.8 493.3 576.6" fill="none" stroke="#D08040" stroke-width="0.9" opacity="0.8"/>
<path d="M410 552.3C413.3 556.9 423.5 570.6 430 580C436.5 589.4 446 603.8 449.2 608.6" fill="none" stroke="#B09090" stroke-width="0.6" opacity="0.4"/>
<path d="M497.9 420C498.1 421.7 498.4 427.2 499 430C499.6 432.8 500 433.9 501.2 437C502.4 440.1 505.5 446.8 506.4 448.8" fill="none" stroke="#A050C0" stroke-width="0.8" opacity="0.7"/>
<circle cx="490.5" cy="506.5" r="0.8" fill="#9040C0"/>
<circle cx="497" cy="516" r="0.8" fill="#40A0E0"/>
<circle cx="503" cy="527" r="0.8" fill="#C06060"/>
<circle cx="508" cy="538" r="0.8" fill="#40A0E0"/>
<circle cx="515" cy="551" r="0.8" fill="#C08040"/>
<circle cx="462" cy="537" r="0.8" fill="#40A0E0"/>
<circle cx="472" cy="546" r="0.8" fill="#C06060"/>
<circle cx="492.5" cy="561.5" r="0.8" fill="#B08030"/>
<circle cx="500" cy="566" r="0.8" fill="#40A0E0"/>
<path d="M546.5 400C546.8 403.3 547.3 414.9 548.3 420C549.2 425.1 551.6 428.8 552.2 430.5" fill="none" stroke="#2030C0" stroke-width="1.8" />
<path d="M552.2 430.5C552.8 435.4 554.5 446.5 556 460C557.5 473.5 560.4 503 561.3 511.6" fill="none" stroke="#7080A0" stroke-width="0.8" stroke-dasharray="3 2" opacity="0.7"/>
<path d="M554.4 429.2C556.4 431.6 561 437.4 566.2 443.5C571.4 449.6 579.8 458.9 585.8 465.8C591.8 472.7 597.6 479 602.5 485C607.4 491 611.1 496.1 615 501.6C618.9 507.2 622.6 513.6 625.8 518.3C629 523 630.1 523.3 634.1 530C638.1 536.7 644.1 548.5 649.7 558.5C655.4 568.5 664 583.1 668 590C672 596.9 668.9 589.6 674 600C679.1 610.4 691.1 637.5 698.4 652.3C705.7 667.1 713.2 679 718 689C722.8 699 725.5 708.2 727 712L733.5 712C732 708.2 728.7 699 724.3 689C719.9 679 713.6 667.1 707 652.3C700.4 637.5 689.4 610.4 684.5 600C679.6 589.6 680.9 596.9 677.5 590C674.1 583.1 669 568.5 664.1 558.5C659.2 548.5 651.7 536 648.3 530C644.9 524 644.8 525.5 643.5 522.4C642.2 519.3 640.9 514.3 640.3 511.6C639.7 508.9 641 507.8 640 506C639 504.2 635.1 501.7 634.1 500.8Z" fill="#FFFFFF" />
<path d="M554.4 429.2C557.5 431.4 565.3 437.5 572.7 442.2C580.1 446.9 593.6 454.4 598.9 457.4C604.1 460.4 600.1 458 604.2 460C608.3 462 615.9 465.7 623.3 469.2C630.6 472.7 640 477.2 648.3 480.8C656.6 484.4 665 487.6 673.3 490.8C681.6 494 688.8 496.8 698.2 500C707.7 503.2 719.7 506.9 730 510C740.3 513 748.8 515.3 760 518.3C771.2 521.3 789.8 526.1 797 528C804.2 529.9 802 529.3 803 529.6L803 532.8C802 532.6 804.2 533 797 531.5C789.8 530 771.2 526.2 760 523.8C748.8 521.4 740.3 519.5 730 517C719.7 514.5 707.7 511.5 698.2 509C688.8 506.5 680.2 504.1 673.3 501.8C666.4 499.6 662.1 497.3 656.6 495.5C651.1 493.7 642.8 491.6 640 490.8Z" fill="#FFFFFF" />
<path d="M637.5 490 L648.3 491 L660 494.5 L673.3 500.5 L673.3 502.5 L660 497.5 L653.3 495.3 L648.3 495.8 L646.8 497.5 L649.5 499.8 L655.5 506 L663 512.8 L668.3 519.5 L666 521.8 L656.6 515 L648.3 506.6 L641.6 498.3 L638.8 493.3 Z" fill="#FFFFFF" />
<path d="M632 499.5 L636.6 500.8 L643.3 504.8 L649.5 510.2 L649 511.5 L644 509.3 L641.6 508.3 L640.5 511.6 L643.5 522.4 L648.3 530 L643.3 530 L637.5 516.6 L633 505 Z" fill="#FFFFFF" />
<path d="M554.4 429.2C556.4 431.6 561 437.4 566.2 443.5C571.4 449.6 579.8 458.9 585.8 465.8C591.8 472.7 597.6 479 602.5 485C607.4 491 611.1 496.1 615 501.6C618.9 507.2 622.6 513.6 625.8 518.3C629 523 630.1 523.3 634.1 530C638.1 536.7 644.1 548.5 649.7 558.5C655.4 568.5 664 583.1 668 590C672 596.9 668.9 589.6 674 600C679.1 610.4 691.1 637.5 698.4 652.3C705.7 667.1 713.2 679 718 689C722.8 699 725.5 708.2 727 712L732.3 712C730.8 708.2 727.5 699 723 689C718.5 679 712.2 667.1 705.5 652.3C698.8 637.5 687.5 610.4 682.5 600C677.5 589.6 678.9 596.9 675.2 590C671.5 583.1 665.5 568.5 660.2 558.5C654.9 548.5 647.1 537 643.3 530C639.5 523 639.3 520.8 637.5 516.6C635.7 512.4 633.6 508 632.5 505C631.4 502 631.1 499.8 630.8 498.7Z" fill="#00FFFF" />
<path d="M554.4 429.2C557.5 431.4 565.3 437.5 572.7 442.2C580.1 446.9 593.6 454.4 598.9 457.4C604.1 460.4 600.1 458 604.2 460C608.3 462 615.9 465.7 623.3 469.2C630.6 472.7 640 477.2 648.3 480.8C656.6 484.4 665 487.6 673.3 490.8C681.6 494 688.8 496.8 698.2 500C707.7 503.2 719.7 506.9 730 510C740.3 513 748.8 515.3 760 518.3C771.2 521.3 789.8 526.1 797 528C804.2 529.9 802 529.3 803 529.6L803 531.7C802 531.5 804.2 531.9 797 530.3C789.8 528.7 771.2 524.8 760 522.2C748.8 519.7 740.3 517.6 730 515C719.7 512.4 707.7 509.2 698.2 506.5C688.8 503.8 680.2 501.3 673.3 499C666.4 496.7 660.8 494.2 656.6 492.8C652.4 491.4 651.7 491.2 648.3 490.6C644.9 490 638.2 489.4 636.2 489.1Z" fill="#00FFFF" />
<path d="M615 482.5 L617.5 479.2 L627.5 479.2 L640 483.3 L656.6 489.1 L656.6 492.8 L648.3 490.6 L636.2 489.1 L638.3 493.3 L643.3 500 L646.6 504.1 L643.3 504.1 L636.6 500 L630.8 498.7 L632.5 505 L637.5 516.6 L643.3 530 L639.1 530 L627.5 511.6 L620.8 500 L615.8 487.5 Z" fill="#00FFFF" />
<path d="M554.4 429.2C557.5 431.4 565.3 437.5 572.7 442.2C580.1 446.9 593.6 454.4 598.9 457.4C604.1 460.4 600.1 458 604.2 460C608.3 462 615.9 465.7 623.3 469.2C630.6 472.7 640 477.2 648.3 480.8C656.6 484.4 665 487.6 673.3 490.8C681.6 494 688.8 496.8 698.2 500C707.7 503.2 719.7 506.9 730 510C740.3 513 748.8 515.3 760 518.3C771.2 521.3 789.8 526.1 797 528C804.2 529.9 802 529.3 803 529.6L803 531C802 530.8 804.2 531.2 797 529.5C789.8 527.8 771.2 523.5 760 520.8C748.8 518.1 740.3 516.2 730 513.3C719.7 510.4 707.7 506.4 698.2 503.3C688.8 500.2 680.2 497.4 673.3 495C666.4 492.6 662.1 491.1 656.6 489.1C651.1 487.2 644.9 485 640 483.3C635.1 481.6 631.2 479.9 627.5 479.2C623.8 478.5 619.2 479.2 617.5 479.2L615 482.5C616.6 489.6 618.8 496 620.8 500C622.8 504 625.3 507.9 627.5 511.6C629.7 515.3 632.2 519.3 634.1 522.4C636 525.5 635.4 524 639.1 530C642.8 536 650.6 548.5 656.2 558.5C661.8 568.5 668.7 583.1 672.6 590C676.5 596.9 674.8 589.6 679.9 600C685 610.4 696.6 637.5 703.5 652.3C710.4 667.1 716.5 679 721 689C725.5 699 728.9 708.2 730.5 712L727 712C725.5 708.2 722.8 699 718 689C713.2 679 705.7 667.1 698.4 652.3C691.1 637.5 679.1 610.4 674 600C668.9 589.6 672 596.9 668 590C664 583.1 655.4 568.5 649.7 558.5C644.1 548.5 638.1 536.7 634.1 530C630.1 523.3 629 523 625.8 518.3C622.6 513.6 618.9 507.2 615 501.6C611.1 496.1 607.4 491 602.5 485C597.6 479 591.8 472.7 585.8 465.8C579.8 458.9 571.4 449.6 566.2 443.5C561 437.4 556.4 431.6 554.4 429.2Z" fill="#7B55FF"/>
<path d="M648.3 490.2C647.2 490.1 644 489.7 642 489.5C640 489.3 636.8 488.5 636.2 489.1C635.6 489.7 637.1 491.5 638.3 493.3C639.5 495.1 641.8 498.1 643.3 500C644.8 501.9 646.8 504.2 647.5 505" fill="none" stroke="#A8580C" stroke-width="1.7" stroke-linejoin="round"/>
<path d="M643.3 504.1C642.2 503.4 638.7 500.9 636.6 500C634.5 499.1 631.5 497.9 630.8 498.7C630.1 499.5 631.4 502 632.5 505C633.6 508 635.7 512.4 637.5 516.6C639.3 520.8 642.3 527.8 643.3 530" fill="none" stroke="#A8580C" stroke-width="1.7" stroke-linejoin="round"/>
<path d="M643.3 530C646.1 534.8 654.9 548.5 660.2 558.5C665.5 568.5 671.5 583.1 675.2 590C678.9 596.9 677.5 589.6 682.5 600C687.5 610.4 698.8 637.5 705.5 652.3C712.2 667.1 718.5 679 723 689C727.5 699 730.8 708.2 732.3 712" fill="none" stroke="#806020" stroke-width="0.8" opacity="0.9"/>
<path d="M653.3 494.1C652.2 494.4 647.6 495 646.6 495.8C645.6 496.6 646.7 497.7 647.5 499.1C648.3 500.5 650.9 503.3 651.6 504.1" fill="none" stroke="#C8005A" stroke-width="0.9" />
<path d="M649.1 510.8C647.9 510.3 643.1 507.8 641.6 507.9C640.1 508 639.7 509.2 640 511.6C640.3 514 642.8 520.6 643.3 522.4" fill="none" stroke="#C8005A" stroke-width="0.9" />
<path d="M646.6 504.1C648.2 505.2 652.9 508.4 656 511C659.1 513.6 663.5 518.5 665 520" fill="none" stroke="#40A0A0" stroke-width="0.8" opacity="0.8"/></g>
<g clip-path="url(#cb)"><path d="M990 716C993.2 712.3 995.6 709.5 1009.1 693.6C1022.6 677.8 1050.6 645.7 1070.8 620.9C1091 596.1 1097.2 585.1 1130 545C1162.8 504.9 1219.5 433.9 1267.8 380C1316.1 326.1 1389.2 253.3 1420 221.6C1450.8 189.9 1441.8 200.1 1452.3 190C1462.8 179.9 1472.1 171.4 1483.2 161.3C1494.3 151.2 1508.2 139.4 1518.9 129.2C1529.6 119 1530.4 116.5 1547.6 100C1564.8 83.5 1605.9 45 1621.8 30C1637.7 15 1639.5 13.3 1643 10L1657 10C1653.8 13.3 1652.6 15 1638 30C1623.4 45 1584.8 84 1569.5 100C1554.2 116 1552.9 117.9 1546 125.7C1539.1 133.6 1533.9 139.6 1528 147.1C1522.1 154.6 1515.4 163.8 1510.5 170.9C1505.6 178.1 1501.8 184 1498.8 190C1495.8 196 1494.2 201.1 1492.5 206.7C1490.8 212.2 1489.3 217.8 1488.3 223.3C1487.2 228.9 1486.7 233.9 1486.2 240C1485.7 246.1 1485.7 252.5 1485.4 260C1485.1 267.5 1484.5 278.3 1484.3 285C1484.1 291.7 1484.5 294.2 1484.5 300C1484.5 305.8 1483.9 314.2 1484 320C1484.1 325.8 1490 329.6 1484.9 334.9C1479.8 340.2 1464 346.4 1453.2 351.6C1442.4 356.8 1432.2 360.7 1420 366C1407.8 371.3 1392.9 377.8 1380 383.5C1367.1 389.2 1355.6 394.1 1342.6 400.2C1329.6 406.3 1315.6 413 1302.1 420.4C1288.6 427.8 1272.2 437.3 1261.7 444.7C1251.2 452.1 1246.7 457.9 1238.9 465C1231.1 472.1 1223 480.1 1215.1 487.5C1207.2 494.9 1199.2 502.1 1191.3 509.5C1183.4 516.9 1174.5 525.2 1167.6 532C1160.7 538.8 1165.8 532 1149.7 550C1133.6 568 1093.2 613.9 1070.8 640C1048.4 666.1 1026.7 692.9 1015.4 706.6C1004.1 720.3 1005.1 719.4 1003 722Z" fill="#99FF99"/>
<path d="M1003 722C1005.1 719.4 1004.1 720.3 1015.4 706.6C1026.7 692.9 1048.4 666.1 1070.8 640C1093.2 613.9 1133.6 568 1149.7 550C1165.8 532 1160.7 538.8 1167.6 532C1174.5 525.2 1183.4 516.9 1191.3 509.5C1199.2 502.1 1207.2 494.9 1215.1 487.5C1223 480.1 1231.1 472.1 1238.9 465C1246.7 457.9 1251.2 452.1 1261.7 444.7C1272.2 437.3 1288.6 427.8 1302.1 420.4C1315.6 413 1329.6 406.3 1342.6 400.2C1355.6 394.1 1367.1 389.2 1380 383.5C1392.9 377.8 1407.8 371.3 1420 366C1432.2 360.7 1442.4 356.8 1453.2 351.6C1464 346.4 1479.6 337.7 1484.9 334.9L1481.5 352 L1479.9 359.9 L1457.4 373.2C1457.3 378.4 1459.5 397.6 1456.6 404.1C1453.7 410.6 1445.5 409.4 1440 412C1434.5 414.6 1429.5 416.6 1423.4 419.5C1417.3 422.4 1410 426 1403.3 429.1C1396.6 432.2 1390.8 434.5 1383 438C1375.2 441.5 1362.5 447.2 1356.6 450C1350.7 452.8 1350.8 453.3 1347.6 454.8C1344.4 456.3 1342.1 457 1337.5 458.8C1332.9 460.6 1326.5 463.4 1320 465.5C1313.5 467.6 1306 469.2 1298.4 471.4C1290.8 473.6 1282.5 475.3 1274.6 478.5C1266.7 481.7 1258.7 485.8 1250.8 490.4C1242.9 495 1234.9 499.9 1227 505.9C1219.1 511.8 1211.1 518.8 1203.2 526.1C1195.3 533.5 1198.2 531 1179.5 550C1160.8 569 1115.4 613.9 1091.2 640C1067 666.1 1046.6 692.1 1034.6 706.6C1022.6 721.1 1021.6 723.6 1019 727Z" fill="#fff"/>
<path d="M1003 722C1005.1 719.4 1004.1 720.3 1015.4 706.6C1026.7 692.9 1048.4 666.1 1070.8 640C1093.2 613.9 1133.6 568 1149.7 550C1165.8 532 1160.7 538.8 1167.6 532C1174.5 525.2 1183.4 516.9 1191.3 509.5C1199.2 502.1 1207.2 494.9 1215.1 487.5C1223 480.1 1231.1 472.1 1238.9 465C1246.7 457.9 1251.2 452.1 1261.7 444.7C1272.2 437.3 1288.6 427.8 1302.1 420.4C1315.6 413 1329.6 406.3 1342.6 400.2C1355.6 394.1 1367.1 389.2 1380 383.5C1392.9 377.8 1407.8 371.3 1420 366C1432.2 360.7 1442.4 356.8 1453.2 351.6C1464 346.4 1479.6 337.7 1484.9 334.9L1481.5 352 L1479.9 359.9 L1457.4 373.2C1457.3 378.4 1459.5 397.6 1456.6 404.1C1453.7 410.6 1445.5 409.4 1440 412C1434.5 414.6 1429.5 416.6 1423.4 419.5C1417.3 422.4 1410 426 1403.3 429.1C1396.6 432.2 1390.8 434.5 1383 438C1375.2 441.5 1362.5 447.2 1356.6 450C1350.7 452.8 1350.8 453.3 1347.6 454.8C1344.4 456.3 1342.1 457 1337.5 458.8C1332.9 460.6 1326.5 463.4 1320 465.5C1313.5 467.6 1306 469.2 1298.4 471.4C1290.8 473.6 1282.5 475.3 1274.6 478.5C1266.7 481.7 1258.7 485.8 1250.8 490.4C1242.9 495 1234.9 499.9 1227 505.9C1219.1 511.8 1211.1 518.8 1203.2 526.1C1195.3 533.5 1198.2 531 1179.5 550C1160.8 569 1115.4 613.9 1091.2 640C1067 666.1 1046.6 692.1 1034.6 706.6C1022.6 721.1 1021.6 723.6 1019 727Z" fill="url(#dots)"/>
<path d="M1673.5 10C1670.3 13.3 1667.1 15 1654.2 30C1641.3 45 1607.8 86 1596.1 100C1584.4 114 1588.6 107.5 1584.3 113.8C1580 120.1 1573.6 130.7 1570 137.6C1566.4 144.5 1564.6 149.8 1562.9 155.4C1561.2 161 1560.1 166.4 1559.9 170.9C1559.7 175.4 1560.9 179.5 1561.7 182.7C1562.5 185.9 1564.2 182.1 1564.9 190C1565.6 197.9 1565.8 218.3 1565.8 230C1565.8 241.7 1565.6 251.7 1564.9 260C1564.2 268.3 1562.7 273.1 1561.5 279.8C1560.3 286.5 1558.6 296.6 1558 300L1556.5 311.6 L1552.3 349.9 L1501.5 376.6 L1493.2 411 L1461.2 545 L1419.3 706.8 L1417 716L1409.5 716C1409.9 714.5 1405 735.3 1411.8 706.8C1418.6 678.3 1439.8 593.6 1450.3 545C1460.8 496.4 1469.3 447.5 1474.5 415C1479.7 382.5 1479.9 364.2 1481.5 350C1483.1 335.8 1483.5 340.8 1484 330C1484.5 319.2 1484.2 292.5 1484.3 285C1484.5 280.8 1485.1 267.5 1485.4 260C1485.7 252.5 1485.7 246.1 1486.2 240C1486.7 233.9 1487.2 228.9 1488.3 223.3C1489.3 217.8 1490.8 212.2 1492.5 206.7C1494.2 201.1 1495.8 196 1498.8 190C1501.8 184 1505.6 178.1 1510.5 170.9C1515.4 163.8 1522.1 154.6 1528 147.1C1533.9 139.6 1539.1 133.6 1546 125.7C1552.9 117.9 1554.2 116 1569.5 100C1584.8 84 1623.4 45 1638 30C1652.6 15 1653.8 13.3 1657 10Z" fill="#fff"/>
<path d="M1673.5 10C1670.3 13.3 1667.1 15 1654.2 30C1641.3 45 1607.8 86 1596.1 100C1584.4 114 1588.6 107.5 1584.3 113.8C1580 120.1 1573.6 130.7 1570 137.6C1566.4 144.5 1564.6 149.8 1562.9 155.4C1561.2 161 1560.1 166.4 1559.9 170.9C1559.7 175.4 1560.9 179.5 1561.7 182.7C1562.5 185.9 1564.2 182.1 1564.9 190C1565.6 197.9 1565.8 218.3 1565.8 230C1565.8 241.7 1565.6 251.7 1564.9 260C1564.2 268.3 1562.7 273.1 1561.5 279.8C1560.3 286.5 1558.6 296.6 1558 300L1556.5 311.6 L1552.3 349.9 L1501.5 376.6 L1493.2 411 L1461.2 545 L1419.3 706.8 L1417 716L1409.5 716C1409.9 714.5 1405 735.3 1411.8 706.8C1418.6 678.3 1439.8 593.6 1450.3 545C1460.8 496.4 1469.3 447.5 1474.5 415C1479.7 382.5 1479.9 364.2 1481.5 350C1483.1 335.8 1483.5 340.8 1484 330C1484.5 319.2 1484.2 292.5 1484.3 285C1484.5 280.8 1485.1 267.5 1485.4 260C1485.7 252.5 1485.7 246.1 1486.2 240C1486.7 233.9 1487.2 228.9 1488.3 223.3C1489.3 217.8 1490.8 212.2 1492.5 206.7C1494.2 201.1 1495.8 196 1498.8 190C1501.8 184 1505.6 178.1 1510.5 170.9C1515.4 163.8 1522.1 154.6 1528 147.1C1533.9 139.6 1539.1 133.6 1546 125.7C1552.9 117.9 1554.2 116 1569.5 100C1584.8 84 1623.4 45 1638 30C1652.6 15 1653.8 13.3 1657 10Z" fill="url(#dots)"/>
<path d="M1025.5 708.1 L1029.7 703.1 L1035 696.7 L1041.2 689.1 L1048.3 680.5 L1056.1 671.2 L1064.3 661.4 L1072.9 651.5 L1081.7 641.6 L1091.4 631 L1102.6 619.1 L1114.6 606.4 L1126.9 593.6 L1138.9 581.1 L1150 569.6 L1159.5 559.6 L1167 551.7 L1172.2 546.1 L1175.6 542.4 L1177.6 540.1 L1178.7 538.7 L1179.3 537.8 L1179.6 537.4 L1180.2 536.7 L1181.6 535.1 L1183.7 532.8 L1185.9 530.5 L1188.1 528.1 L1190.4 525.7 L1192.7 523.3 L1195 521 L1197.3 518.7 L1199.5 516.4 L1201.8 514.3 L1204 512.1 L1206.2 510 L1208.5 507.9 L1210.7 505.9 L1212.9 504 L1215.1 502.1 L1217.3 500.3 L1219.5 498.5 L1221.7 496.8 L1223.9 495.1 L1226.1 493.5 L1228.3 491.9 L1230.5 490.4 L1232.7 488.9 L1234.9 487.4 L1237.1 485.9 L1239.2 484.5 L1241.3 483.2 L1243.3 481.9 L1245.4 480.6 L1247.6 479.4 L1249.9 478.1 L1252.3 476.9 L1254.9 475.7 L1257.7 474.4 L1260.6 473.1 L1263.6 471.9 L1266.6 470.7 L1269.7 469.6 L1272.7 468.5 L1275.6 467.6 L1278.5 466.8 L1281.5 466.2 L1284.6 465.6 L1287.7 465 L1290.8 464.5 L1293.8 464 L1296.6 463.5 L1299.2 463 L1301.4 462.5 L1303.3 462 L1305 461.6 L1306.5 461.1 L1308 460.7 L1309.6 460.2 L1311.3 459.7 L1313.3 459.1" fill="none" stroke="#7090F0" stroke-width="0.8" opacity="0.8"/>
<path d="M1026.9 709.3 L1031 704.3 L1036.3 697.8 L1042.6 690.2 L1049.7 681.6 L1057.4 672.3 L1065.6 662.6 L1074.2 652.6 L1083 642.8 L1092.7 632.2 L1103.9 620.3 L1115.9 607.6 L1128.2 594.8 L1140.2 582.3 L1151.2 570.8 L1160.8 560.8 L1168.3 552.9 L1173.6 547.3 L1177 543.6 L1179.1 541.3 L1180.3 539.8 L1181 538.8 L1181.3 538.5 L1181.8 538 L1183.2 536.5 L1185.3 534.3 L1187.5 532 L1189.7 529.6 L1192 527.2 L1194.3 524.9 L1196.6 522.5 L1198.9 520.2 L1201.2 518.1 L1203.4 515.9 L1205.7 513.8 L1207.9 511.7 L1210.1 509.7 L1212.3 507.7 L1214.5 505.8 L1216.7 504 L1218.9 502.2 L1221.1 500.4 L1223.2 498.8 L1225.4 497.1 L1227.6 495.5 L1229.7 494 L1231.9 492.4 L1234.1 491 L1236.3 489.5 L1238.5 488 L1240.6 486.6 L1242.6 485.3 L1244.7 484 L1246.7 482.8 L1248.8 481.6 L1251 480.4 L1253.4 479.2 L1256 477.9 L1258.8 476.7 L1261.6 475.4 L1264.6 474.2 L1267.5 473.1 L1270.5 471.9 L1273.5 470.9 L1276.3 470 L1279.1 469.3 L1282.1 468.7 L1285.1 468.1 L1288.2 467.6 L1291.2 467.1 L1294.2 466.6 L1297.1 466.1 L1299.7 465.6 L1302 465 L1303.9 464.5 L1305.6 464.1 L1307.2 463.6 L1308.7 463.2 L1310.3 462.7 L1312 462.1 L1314 461.5" fill="none" stroke="#F0A060" stroke-width="0.7" opacity="0.8"/>
<path d="M1028.1 710.3 L1032.3 705.3 L1037.6 698.8 L1043.8 691.2 L1050.9 682.6 L1058.6 673.3 L1066.9 663.6 L1075.4 653.7 L1084.2 643.9 L1093.9 633.3 L1105.1 621.4 L1117.1 608.8 L1129.4 595.9 L1141.4 583.5 L1152.4 572 L1162 562 L1169.5 554 L1174.8 548.5 L1178.3 544.8 L1180.5 542.4 L1181.8 540.8 L1182.6 539.7 L1182.8 539.5 L1183.2 539.2 L1184.6 537.7 L1186.7 535.6 L1188.9 533.3 L1191.1 530.9 L1193.4 528.6 L1195.8 526.3 L1198.1 523.9 L1200.4 521.7 L1202.7 519.5 L1204.9 517.4 L1207.2 515.3 L1209.4 513.3 L1211.6 511.3 L1213.8 509.4 L1216 507.5 L1218.2 505.7 L1220.4 504 L1222.5 502.2 L1224.6 500.6 L1226.8 499 L1228.9 497.4 L1231.1 495.9 L1233.2 494.3 L1235.4 492.9 L1237.6 491.4 L1239.8 489.9 L1241.9 488.5 L1243.9 487.2 L1245.9 486 L1247.9 484.8 L1250 483.6 L1252.1 482.4 L1254.4 481.2 L1257 480 L1259.7 478.8 L1262.5 477.6 L1265.4 476.4 L1268.4 475.2 L1271.3 474.1 L1274.2 473.1 L1276.9 472.2 L1279.7 471.5 L1282.5 470.9 L1285.5 470.4 L1288.6 469.9 L1291.6 469.4 L1294.6 468.9 L1297.5 468.5 L1300.2 467.9 L1302.5 467.4 L1304.5 466.9 L1306.2 466.4 L1307.8 465.9 L1309.4 465.4 L1310.9 464.9 L1312.6 464.4 L1314.6 463.8" fill="none" stroke="#40A8A8" stroke-width="0.9" opacity="0.8"/>
<path d="M1457.4 373.2C1457.4 379.3 1457.6 402.2 1457.5 410C1457.4 417.8 1459.3 397.5 1456.6 420C1453.8 442.5 1449.7 497.2 1441 545C1432.3 592.8 1411.1 678.3 1404.7 706.8C1398.3 735.3 1402.9 714.5 1402.5 716L1409.5 716C1409.9 714.5 1405 735.3 1411.8 706.8C1418.6 678.3 1439.8 593.6 1450.3 545C1460.8 496.4 1469.3 447.5 1474.5 415C1479.7 382.5 1480.3 360.8 1481.5 350L1479.9 359.9Z" fill="#99FF99"/>
<path d="M1457.5 376.6 L1480 357.5 L1481.5 350 L1458 366Z" fill="#C8FFC8" opacity="0.8"/>
<path d="M1400 395.5C1405 392.8 1420.3 384.3 1430 379C1439.7 373.7 1449.5 368.5 1458 363.5C1466.5 358.5 1477.2 351.4 1481 349" fill="none" stroke="#30A090" stroke-width="1.0" opacity="0.85"/>
<path d="M1400 399C1405 396.2 1420.3 387.8 1430 382.5C1439.7 377.2 1453.3 370 1458 367.5" fill="none" stroke="#70C0E0" stroke-width="0.7" opacity="0.7"/>
<path d="M1326 440 L1330 420 L1355 400 L1386 388 L1418 375 L1486 338 L1483 343.5 L1453 359.8 L1425 376.8 L1400 390.3 L1385 401.2 L1370 411.6 L1356.6 420.8 L1353.3 426.6 L1347.5 433.3 L1342.5 438.3 L1340 447.5 Z" fill="#7B55FF"/>
<path d="M1343.7 439.7C1344.5 438.9 1346.9 436.6 1348.7 434.7C1350.5 432.8 1353 430.1 1354.5 428C1356 425.9 1355 424.7 1357.8 422.2C1360.6 419.7 1366.5 416.3 1371.2 413C1375.9 409.7 1383.7 404.3 1386.2 402.6" fill="none" stroke="#30D0F0" stroke-width="1.6" />
<path d="M1386.2 402.6C1388.7 400.8 1394.5 395.8 1401.2 391.7C1407.9 387.6 1417.4 383.3 1426.2 378.2C1435 373.1 1444.5 366.8 1454.2 361.2C1463.9 355.6 1479.2 347.6 1484.2 344.9" fill="none" stroke="#30B0D0" stroke-width="0.9" />
<path d="M1003 722C1005.1 719.4 1004.1 720.3 1015.4 706.6C1026.7 692.9 1048.4 666.1 1070.8 640C1093.2 613.9 1133.6 568 1149.7 550C1165.8 532 1160.7 538.8 1167.6 532C1174.5 525.2 1183.4 516.9 1191.3 509.5C1199.2 502.1 1207.2 494.9 1215.1 487.5C1223 480.1 1231.1 472.1 1238.9 465C1246.7 457.9 1251.2 452.1 1261.7 444.7C1272.2 437.3 1288.6 427.8 1302.1 420.4C1315.6 413 1329.6 406.3 1342.6 400.2C1355.6 394.1 1367.1 389.2 1380 383.5C1392.9 377.8 1407.8 371.3 1420 366C1432.2 360.7 1447.7 354 1453.2 351.6L1454.9 358.2C1448.8 361.8 1429.7 374.1 1418.3 380C1406.9 385.9 1396 388.7 1386.6 393.3C1377.1 397.9 1368.8 402.8 1361.6 407.5C1354.4 412.2 1347.6 417.3 1343.3 421.6C1339 425.9 1336.8 429.1 1335.8 433.3C1334.8 437.5 1337.2 444.5 1337.5 446.7L1345.6 449.7C1346.1 451.6 1347.4 455.7 1348.6 460.9C1349.8 466.1 1351.6 474.3 1352.7 481C1353.8 487.7 1354.7 494.8 1355.3 501.3C1355.9 507.8 1356 514.2 1356.2 520C1356.4 525.8 1356.3 533.3 1356.3 536C1355.7 533.8 1355.6 527.5 1355.3 522.7C1355 517.9 1354.7 512.5 1354.1 507.3C1353.5 502.1 1353 497 1351.8 491.8C1350.6 486.6 1349.2 481.5 1347.1 476.4C1345 471.2 1341.8 465.3 1339.4 460.9C1337 456.4 1333.7 451.6 1332.5 449.7C1329.1 450.7 1318 454.2 1312.3 455.8C1306.6 457.4 1304.7 458.1 1298.4 459.5C1292.1 460.9 1282.5 461.9 1274.6 464.3C1266.7 466.7 1257.7 470.4 1250.8 473.8C1243.9 477.2 1239 480.5 1233 484.5C1227 488.5 1221 492.7 1215.1 497.6C1209.1 502.6 1203.2 508.3 1197.3 514.2C1191.4 520.1 1184.8 527.2 1179.5 533.2C1174.2 539.2 1181.8 532.2 1165.2 550C1148.6 567.8 1103.5 613.9 1079.9 640C1056.3 666.1 1035.9 692.1 1023.7 706.6C1011.6 721.1 1009.8 723.6 1007 727Z" fill="#FF00FF"/>
<path d="M1356 534C1356.1 538.3 1356.5 555.7 1356.6 560" fill="none" stroke="#B060E8" stroke-width="0.9" opacity="0.7"/>
<path d="M1356.6 558C1356.7 561.7 1357.1 571.3 1357 580C1356.9 588.7 1357.2 598.3 1356 610C1354.8 621.7 1352.7 636.7 1350 650C1347.3 663.3 1342.3 679.7 1340 690C1337.7 700.3 1336.7 708.3 1336 712" fill="none" stroke="#C890E0" stroke-width="0.7" opacity="0.3"/>
<path d="M1346.8 455C1347.2 456.2 1348.2 458.2 1349.2 462C1350.2 465.8 1351.7 473 1352.6 478C1353.5 483 1353.9 487.2 1354.4 492C1354.9 496.8 1355.2 502 1355.5 507C1355.8 512 1355.9 519.5 1356 522" fill="none" stroke="#8A50FF" stroke-width="1.3" />
<path d="M1023.7 706.6C1033.1 695.5 1056.3 666.1 1079.9 640C1103.5 613.9 1148.6 567.8 1165.2 550C1181.8 532.2 1174.2 539.2 1179.5 533.2C1184.8 527.2 1191.4 520.1 1197.3 514.2C1203.2 508.3 1209.1 502.6 1215.1 497.6C1221 492.7 1227 488.5 1233 484.5C1239 480.5 1243.9 477.2 1250.8 473.8C1257.7 470.4 1266.7 466.7 1274.6 464.3C1282.5 461.9 1292.1 460.9 1298.4 459.5C1304.7 458.1 1310 456.4 1312.3 455.8L1312.5 457C1310.2 457.8 1304.7 459.9 1298.4 461.9C1292.1 463.9 1282.5 466 1274.6 469C1266.7 472 1256.9 476.8 1250.8 479.7C1244.7 482.6 1243.1 483.3 1238 486.5C1232.9 489.7 1225.8 494.6 1220 499C1214.2 503.4 1209.2 507.2 1203.2 513C1197.2 518.8 1189.7 527.3 1184 533.5C1178.3 539.7 1185.9 532.2 1168.8 550C1151.7 567.8 1105.5 613.9 1081.5 640C1057.5 666.1 1034.4 695.5 1025 706.6Z" fill="#7B55FF" />
<path d="M1434.9 380 Q1418 387 1411.6 392.5 Q1399 400 1390 410 Q1383 419 1380 430 Q1381.5 424 1385 421.6 Q1389 417 1392.4 415.8 Q1398 413 1403.3 413.3 L1403.3 406 Q1407 400 1411.6 396 Q1420 388 1434.9 380Z" fill="#18B8F0"/>
<path d="M1401.5 402.5 L1405.5 404.5 L1404.5 411.5 L1400.5 408.5Z" fill="#E05010"/>
<path d="M1380 430C1379.7 431.4 1378.9 435 1378.3 438.3C1377.7 441.6 1376.9 448.1 1376.6 450" fill="none" stroke="#4080A0" stroke-width="0.9" opacity="0.75"/>
<path d="M1376.6 450C1376.3 453.3 1375.4 461.7 1375 470C1374.6 478.3 1374.2 495 1374 500" fill="none" stroke="#80A0B0" stroke-width="0.7" opacity="0.4"/>
<path d="M1403.3 410C1404.4 411.7 1408 416.4 1409.9 420C1411.8 423.6 1414.1 429.7 1414.9 431.6" fill="none" stroke="#4080A0" stroke-width="0.9" opacity="0.7"/>
<path d="M1414.9 431.6C1415.5 434.7 1417.5 441.9 1418.3 450C1419.1 458.1 1419.7 475 1420 480" fill="none" stroke="#80A0B0" stroke-width="0.7" opacity="0.4"/>
<path d="M1436 379.5C1440 377.2 1456 368.2 1460 366" fill="none" stroke="#3090A0" stroke-width="1.0" opacity="0.8"/>
<path d="M1430.7 392.5 Q1426 394 1424.9 399.2 L1430 398.5Z" fill="#3050E0"/>
<path d="M1424.9 399.2C1424.7 401 1423.8 406.9 1423.5 410C1423.2 413.1 1423.1 416.7 1423 418" fill="none" stroke="#6080D0" stroke-width="0.7" opacity="0.7"/>
<path d="M1430 398.5C1430.5 399.8 1432.3 403.6 1433 406C1433.7 408.4 1433.8 411.8 1434 413" fill="none" stroke="#6080D0" stroke-width="0.7" opacity="0.7"/>
<path d="M1300 457.5 L1310 456 L1318 462 L1308 461Z" fill="#18B8F0"/>
<path d="M1310 460C1311.7 461 1317.3 463.3 1320 466C1322.7 468.7 1325 474.3 1326 476" fill="none" stroke="#5090B0" stroke-width="0.8" opacity="0.6"/>
<path d="M1350 442.4C1358.9 438.7 1385.5 427.6 1403.3 420C1421.1 412.4 1447.7 400.6 1456.6 396.7" fill="none" stroke="#E030E0" stroke-width="1.1" />
<path d="M1346 436C1347 435 1349.7 432.5 1352 430C1354.3 427.5 1356.7 423.8 1360 421C1363.3 418.2 1366.2 416.6 1372 413C1377.8 409.4 1386.3 404.2 1395 399.5C1403.7 394.8 1419.2 387 1424 384.5" fill="none" stroke="#F09050" stroke-width="0.7" opacity="0.8"/>
<path d="M1349 438C1350.2 436.8 1353.5 433.4 1356 431C1358.5 428.6 1360.7 426.1 1364 423.5C1367.3 420.9 1370.3 419.1 1376 415.5C1381.7 411.9 1389.5 406.8 1398 402C1406.5 397.2 1422.2 389.5 1427 387" fill="none" stroke="#F0B080" stroke-width="0.7" opacity="0.7"/>
<path d="M1372 420l1.6 -3l0.6 3.4z" fill="#E02000"/>
<path d="M1361 425l1.6 -3l0.6 3.4z" fill="#E05010"/>
<path d="M1413.5 403l1.6 -3l0.6 3.4z" fill="#E05010"/>
<path d="M1440 392l1.6 -3l0.6 3.4z" fill="#E05010"/>
<path d="M1375 422l1.6 -3l0.6 3.4z" fill="#E05010"/>
<path d="M1316 459l1.6 -3l0.6 3.4z" fill="#E05010"/>
<path d="M1302 466l1.6 -3l0.6 3.4z" fill="#E05010"/>
<path d="M1290 468l1.6 -3l0.6 3.4z" fill="#E05010"/>
<path d="M1447 389l1.6 -3l0.6 3.4z" fill="#E05010"/>
<path d="M1395 418l1.6 -3l0.6 3.4z" fill="#F0A040"/>
<path d="M1484.3 285C1484.5 280.8 1485.1 267.5 1485.4 260C1485.7 252.5 1485.7 246.1 1486.2 240C1486.7 233.9 1487.2 228.9 1488.3 223.3C1489.3 217.8 1490.8 212.2 1492.5 206.7C1494.2 201.1 1495.8 196 1498.8 190C1501.8 184 1505.6 178.1 1510.5 170.9C1515.4 163.8 1522.1 154.6 1528 147.1C1533.9 139.6 1539.1 133.6 1546 125.7C1552.9 117.9 1554.2 116 1569.5 100C1584.8 84 1623.4 45 1638 30C1652.6 15 1653.8 13.3 1657 10L1665 10C1635.5 41.7 1595.1 86 1582.8 100C1570.5 114 1577.1 107.5 1572.4 113.8C1567.7 120.1 1559.5 130.7 1554.6 137.6C1549.6 144.5 1545.7 149.8 1542.7 155.4C1539.7 161 1537.5 166.4 1536.7 170.9C1535.9 175.4 1537 179.5 1537.9 182.7C1538.9 185.9 1541 187.4 1542.4 190C1543.9 192.6 1545.2 195.7 1546.6 198.3C1548 200.9 1550.1 204.3 1550.8 205.5C1566.1 203.1 1574.4 201.4 1579.9 200C1585.5 198.6 1591 196.7 1596.6 195C1602.1 193.3 1609 191.5 1613.2 190C1617.4 188.5 1620.5 186.7 1622 186L1622 186.6C1610.4 191.8 1602.1 194.3 1596.6 196.2C1591 198.1 1585.5 200.6 1579.9 202.5C1574.4 204.4 1568.2 206.5 1563.3 207.9C1558.4 209.3 1552.9 210.5 1550.8 211C1536.9 214.8 1532.8 216.5 1530 218.3C1527.2 220.1 1524.1 222.4 1521.6 225C1519.1 227.6 1516.8 230.9 1515 234.1C1513.2 237.3 1512 239.8 1510.8 244.1C1509.5 248.4 1508 257.4 1507.5 260C1501.8 295.3 1496.6 324.9 1493.2 346.6C1489.8 368.3 1489.3 381.9 1483 415C1476.7 448.1 1466.8 496.4 1455.5 545C1444.2 593.6 1422.3 678.3 1415.2 706.8C1408.1 735.3 1413.4 714.5 1413 716L1409.5 716C1409.9 714.5 1405 735.3 1411.8 706.8C1418.6 678.3 1439.8 593.6 1450.3 545C1460.8 496.4 1469.3 447.5 1474.5 415C1479.7 382.5 1479.9 364.2 1481.5 350C1483.1 335.8 1483.5 340.8 1484 330C1484.5 319.2 1484.2 292.5 1484.3 285Z" fill="#FF00FF"/>
<path d="M1618 188.2C1623.3 185.7 1638.6 178.5 1650 173C1661.4 167.5 1680.3 158.3 1686.4 155.4" fill="none" stroke="#C050E8" stroke-width="0.9" opacity="0.75"/>
<path d="M1665 10C1661.8 13.3 1659.8 15 1646.1 30C1632.4 45 1595.1 86 1582.8 100C1570.5 114 1577.1 107.5 1572.4 113.8C1567.7 120.1 1559.5 130.7 1554.6 137.6C1549.6 144.5 1545.7 149.8 1542.7 155.4C1539.7 161 1537.5 166.4 1536.7 170.9C1535.9 175.4 1537 179.5 1537.9 182.7C1538.9 185.9 1541 187.4 1542.4 190C1543.9 192.6 1545.2 195.7 1546.6 198.3C1548 200.9 1550.1 204.3 1550.8 205.5L1552 205C1551.7 203.9 1550.9 200.8 1550 198.3C1549.1 195.8 1547.2 192.6 1546.6 190C1546 187.4 1546.8 185.9 1546.3 182.7C1545.8 179.5 1543.1 175.2 1543.3 170.9C1543.5 166.6 1544.5 162.2 1547.4 156.6C1550.3 151 1554.1 147 1560.5 137.6C1566.9 128.2 1571.2 117.9 1585.7 100C1600.2 82.1 1633.8 45 1647.3 30C1660.8 15 1663.3 13.3 1666.5 10Z" fill="#7B55FF" />
<path d="M1550.8 211C1548.7 211.5 1541.8 212.9 1538.3 214.1C1534.8 215.3 1532.8 216.5 1530 218.3C1527.2 220.1 1524.1 222.4 1521.6 225C1519.1 227.6 1516.8 230.9 1515 234.1C1513.2 237.3 1512 239.8 1510.8 244.1C1509.5 248.4 1508 257.4 1507.5 260L1513.3 260C1513.6 258.7 1513.9 255.5 1515 252.4C1516.1 249.3 1518.1 244.8 1520 241.6C1521.9 238.4 1524.1 235.4 1526.6 233.3C1529.1 231.2 1533 230.5 1535 229.1C1537 227.7 1537.8 226.5 1538.3 225C1538.8 223.5 1537.5 221.5 1538.3 220C1539.1 218.5 1541.4 217 1543.3 215.8C1545.2 214.6 1548.8 213.4 1549.9 212.9Z" fill="#7B55FF" />
<path d="M1507.5 260C1506.8 264.2 1505.9 270.6 1503.5 285C1501.1 299.4 1496.6 324.9 1493.2 346.6C1489.8 368.3 1489.3 381.9 1483 415C1476.7 448.1 1466.8 496.4 1455.5 545C1444.2 593.6 1422.3 678.3 1415.2 706.8C1408.1 735.3 1413.4 714.5 1413 716L1413.8 716C1414.2 714.5 1408.9 735.3 1416 706.8C1423.1 678.3 1445.1 593.6 1456.6 545C1468.1 496.4 1478.2 448.1 1484.8 415C1491.4 381.9 1492.1 368.3 1496 346.6C1499.9 324.9 1505.1 299.4 1508 285C1510.9 270.6 1512.4 264.2 1513.3 260Z" fill="#7B55FF" />
<path d="M1551.2 213.7C1550.1 214.2 1546.5 215.4 1544.6 216.6C1542.7 217.8 1540.4 219.3 1539.6 220.8C1538.8 222.3 1540.1 224.3 1539.6 225.8C1539 227.3 1538.2 228.5 1536.3 229.9C1534.3 231.3 1530.4 232 1527.9 234.1C1525.4 236.2 1523.2 239.2 1521.3 242.4C1519.4 245.6 1517.4 250.1 1516.3 253.2C1515.2 256.3 1514.9 259.5 1514.6 260.8" fill="none" stroke="#30D0F0" stroke-width="1.5" />
<path d="M1514.5 260C1513.6 264.2 1512.1 270.6 1509.2 285C1506.3 299.4 1501.1 324.9 1497.2 346.6C1493.3 368.3 1487.9 403.6 1486 415" fill="none" stroke="#30D0F0" stroke-width="1.2" opacity="0.9"/>
<path d="M1541.6 243.5 Q1536 247 1532 252 Q1529 256 1527 262 Q1533 259.5 1538 258.5 L1543 256 Q1540.5 250 1541.6 243.5Z" fill="#18B8F0"/>
<path d="M1541 246 L1543.5 250 L1542.5 256 L1539.5 252Z" fill="#E05010"/>
<path d="M1555.2 170.9 L1557 178 L1560 181 L1556 180 L1554 176Z" fill="#18B8F0"/>
<path d="M1595 90C1590.2 97.9 1572.8 126.5 1566.5 137.6C1560.2 148.7 1558.9 151 1557 156.6C1555.1 162.2 1555.5 168.5 1555.2 170.9" fill="none" stroke="#30A0A0" stroke-width="0.9" opacity="0.8"/>
<path d="M1543.3 240.8C1545.2 239.8 1551.3 237 1554.9 235C1558.5 233 1563.3 230 1565 229" fill="none" stroke="#408090" stroke-width="0.8" opacity="0.8"/>
<path d="M1565 229C1568.9 226.7 1580.7 219.3 1588.2 215C1595.7 210.7 1606.4 205 1610 203" fill="none" stroke="#A0A8A8" stroke-width="0.6" opacity="0.35"/>
<path d="M1543.3 254.5C1546.6 253.9 1560 251.4 1563.3 250.8" fill="none" stroke="#408090" stroke-width="0.8" opacity="0.8"/>
<path d="M1563.3 250.8C1568.8 249 1588 243.1 1596.6 240C1605.2 236.9 1611.9 233.3 1615 232" fill="none" stroke="#A0A8A8" stroke-width="0.6" opacity="0.3"/>
<path d="M1550.8 211C1550.9 211.7 1551.2 211.6 1551.6 215C1552 218.4 1552.8 224.1 1553.3 231.6C1553.8 239.1 1554.5 248.6 1554.5 260C1554.5 271.4 1553.6 291.3 1553 300C1552.4 308.7 1551.3 310 1551 312" fill="none" stroke="#B030E0" stroke-width="1.1" opacity="0.9"/>
<path d="M1515 262C1515.8 259 1518.1 248.3 1520 244.1C1521.9 239.9 1523.8 238.8 1526.6 236.6C1529.4 234.4 1534.9 231.8 1536.6 230.8" fill="none" stroke="#E07030" stroke-width="0.7" opacity="0.8"/>
<path d="M1518.2 262C1519 259.2 1521.1 249 1522.9 245.1C1524.7 241.1 1526.4 240.4 1528.8 238.5C1531.3 236.6 1536.1 234.5 1537.6 233.7" fill="none" stroke="#F0A070" stroke-width="0.7" opacity="0.8"/>
<path d="M1521.2 262C1521.9 259.3 1524 249.6 1525.6 246C1527.2 242.3 1528.8 241.9 1530.9 240.3C1533.1 238.7 1537.2 237 1538.5 236.4" fill="none" stroke="#E07030" stroke-width="0.7" opacity="0.8"/>
<path d="M1524 262C1524.7 259.5 1526.6 250.1 1528.1 246.8C1529.6 243.5 1531 243.3 1532.9 242C1534.8 240.7 1538.2 239.4 1539.3 238.9" fill="none" stroke="#F0B090" stroke-width="0.7" opacity="0.8"/>
<path d="M1528 246l1.5 -2.6l0.4 2.9z" fill="#E05010"/>
<path d="M1524 262l1.5 -2.6l0.4 2.9z" fill="#E05010"/>
<path d="M1520 274l1.5 -2.6l0.4 2.9z" fill="#E05010"/>
<path d="M1547 168l1.5 -2.6l0.4 2.9z" fill="#E05010"/>
<path d="M1549 178l1.5 -2.6l0.4 2.9z" fill="#E05010"/>
<path d="M1546 222l1.5 -2.6l0.4 2.9z" fill="#E05010"/>
<path d="M1538 264l1.5 -2.6l0.4 2.9z" fill="#E05010"/>
<path d="M1533 272l1.5 -2.6l0.4 2.9z" fill="#E05010"/>
<path d="M1551 196l1.5 -2.6l0.4 2.9z" fill="#E05010"/>
<path d="M1547 245l1.5 -2.6l0.4 2.9z" fill="#E05010"/>
<path d="M1512 300C1509.8 308.3 1503 330.8 1499 350C1495 369.2 1494.6 382.5 1488 415C1481.4 447.5 1471.2 496.4 1459.5 545C1447.8 593.6 1424.9 679.8 1418 706.8" fill="none" stroke="#60A8C0" stroke-width="0.7" opacity="0.6"/>
<path d="M1514.8 326.6C1526.8 320 1566.2 298.7 1586.5 287C1606.8 275.3 1619.8 266.6 1636.4 256.5C1653.1 246.4 1676.8 232.3 1686.4 226.6C1696 220.9 1692.7 222.9 1694 222.2L1694 227C1692.7 227.8 1696 225.6 1686.4 231.6C1676.8 237.6 1650.3 254.3 1636.4 263.2C1622.5 272.1 1616.4 276.7 1603.1 284.8C1589.8 292.9 1571.2 304.1 1556.5 311.6C1541.8 319.1 1521.8 326.9 1514.8 330Z" fill="#fff" />
<path d="M1518.2 313.3C1519.3 310.8 1523.4 301.1 1524.8 298.3C1526.2 295.5 1522 298.8 1526.5 296.6C1531 294.4 1545.7 287.9 1551.5 285C1557.3 282.1 1555.7 282.9 1561.5 279.5C1567.3 276.1 1574 271.8 1586.5 264.9C1599 258 1619.8 246.8 1636.4 238.2C1653.1 229.6 1676.8 218.1 1686.4 213.3C1696 208.5 1692.7 210.1 1694 209.5L1694 218.2C1692.7 218.9 1696 217.1 1686.4 222.4C1676.8 227.7 1653.1 240.3 1636.4 249.9C1619.8 259.5 1606.2 268.5 1586.5 279.8C1566.8 291.1 1529.6 311.2 1518.2 317.5Z" fill="#99FF99" />
<path d="M1518.2 317.5C1529.6 311.2 1566.8 291.1 1586.5 279.8C1606.2 268.5 1619.8 259.5 1636.4 249.9C1653.1 240.3 1676.8 227.7 1686.4 222.4C1696 217.1 1692.7 218.9 1694 218.2L1694 222.2C1692.7 222.9 1696 220.9 1686.4 226.6C1676.8 232.3 1653.1 246.4 1636.4 256.5C1619.8 266.6 1606.8 275.3 1586.5 287C1566.2 298.7 1526.8 320 1514.8 326.6Z" fill="#FF00FF" />
<path d="M1556.5 309.5C1564.3 305 1589.8 290.7 1603.1 282.6C1616.4 274.5 1621.9 270.1 1636.4 261C1650.9 251.9 1681.1 233.5 1690 228" fill="none" stroke="#6090D0" stroke-width="0.7" opacity="0.8"/>
<path d="M1453.2 351.6 L1484.9 334.9 L1518.2 317.5 L1514.8 327 L1486 341.5 L1454.9 358.6Z" fill="url(#stip)"/>
<path d="M1484.5 316 L1504 312 L1497 344 L1481.5 352Z" fill="url(#stip2)"/>
<path d="M1555 312C1553.8 318.3 1550.5 332 1548 350C1545.5 368 1542.7 391.7 1540 420C1537.3 448.3 1533.3 503.3 1532 520" fill="none" stroke="#C090B0" stroke-width="0.7" stroke-dasharray="2 2" opacity="0.6"/></g>
<text x="154.5" y="73.5" font-size="40" fill="#000" text-anchor="start" letter-spacing="1">(a)</text>
<text x="576.5" y="113.2" font-size="33.2" fill="#000" text-anchor="start" >Divergence</text>
<text x="280.5" y="284" font-size="23.5" fill="#fff" text-anchor="middle" >10</text>
<text x="309.2" y="312" font-size="23.5" fill="#000" text-anchor="middle" >20</text>
<text x="440" y="488" font-size="24" fill="#fff" text-anchor="middle" >10</text>
<text x="605.8" y="478" font-size="19" fill="#fff" text-anchor="middle" >10</text>
<text x="275.7" y="592" font-size="22.5" fill="#000" text-anchor="middle" >14</text>
<text x="332.6" y="672.8" font-size="22.5" fill="#000" text-anchor="middle" >14</text>
<text x="1043.5" y="73.5" font-size="40" fill="#000" text-anchor="start" letter-spacing="1">(b)</text>
<text x="1485.5" y="645.2" font-size="33.2" fill="#000" text-anchor="start" >Divergence</text>
<text x="1397" y="307.3" font-size="23.5" fill="#000" text-anchor="middle" >11</text>
<text x="1516" y="207.9" font-size="23" fill="#fff" text-anchor="middle" >22</text>
<text x="1306.7" y="444.8" font-size="23" fill="#fff" text-anchor="middle" >22</text>
<line x1="116" y1="27.7" x2="116" y2="8.5" stroke="#000" stroke-width="5.3"/>
<line x1="116" y1="710.5" x2="116" y2="729.7" stroke="#000" stroke-width="5.3"/>
<line x1="144.5" y1="27.7" x2="144.5" y2="18.3" stroke="#000" stroke-width="5.3"/>
<line x1="144.5" y1="710.5" x2="144.5" y2="719.9" stroke="#000" stroke-width="5.3"/>
<line x1="173" y1="27.7" x2="173" y2="18.3" stroke="#000" stroke-width="5.3"/>
<line x1="173" y1="710.5" x2="173" y2="719.9" stroke="#000" stroke-width="5.3"/>
<line x1="201.5" y1="27.7" x2="201.5" y2="18.3" stroke="#000" stroke-width="5.3"/>
<line x1="201.5" y1="710.5" x2="201.5" y2="719.9" stroke="#000" stroke-width="5.3"/>
<line x1="230" y1="27.7" x2="230" y2="8.5" stroke="#000" stroke-width="5.3"/>
<line x1="230" y1="710.5" x2="230" y2="729.7" stroke="#000" stroke-width="5.3"/>
<line x1="258.5" y1="27.7" x2="258.5" y2="18.3" stroke="#000" stroke-width="5.3"/>
<line x1="258.5" y1="710.5" x2="258.5" y2="719.9" stroke="#000" stroke-width="5.3"/>
<line x1="286.9" y1="27.7" x2="286.9" y2="18.3" stroke="#000" stroke-width="5.3"/>
<line x1="286.9" y1="710.5" x2="286.9" y2="719.9" stroke="#000" stroke-width="5.3"/>
<line x1="315.4" y1="27.7" x2="315.4" y2="18.3" stroke="#000" stroke-width="5.3"/>
<line x1="315.4" y1="710.5" x2="315.4" y2="719.9" stroke="#000" stroke-width="5.3"/>
<line x1="343.9" y1="27.7" x2="343.9" y2="8.5" stroke="#000" stroke-width="5.3"/>
<line x1="343.9" y1="710.5" x2="343.9" y2="729.7" stroke="#000" stroke-width="5.3"/>
<line x1="372.4" y1="27.7" x2="372.4" y2="18.3" stroke="#000" stroke-width="5.3"/>
<line x1="372.4" y1="710.5" x2="372.4" y2="719.9" stroke="#000" stroke-width="5.3"/>
<line x1="400.9" y1="27.7" x2="400.9" y2="18.3" stroke="#000" stroke-width="5.3"/>
<line x1="400.9" y1="710.5" x2="400.9" y2="719.9" stroke="#000" stroke-width="5.3"/>
<line x1="429.4" y1="27.7" x2="429.4" y2="18.3" stroke="#000" stroke-width="5.3"/>
<line x1="429.4" y1="710.5" x2="429.4" y2="719.9" stroke="#000" stroke-width="5.3"/>
<line x1="457.9" y1="27.7" x2="457.9" y2="8.5" stroke="#000" stroke-width="5.3"/>
<line x1="457.9" y1="710.5" x2="457.9" y2="729.7" stroke="#000" stroke-width="5.3"/>
<line x1="486.4" y1="27.7" x2="486.4" y2="18.3" stroke="#000" stroke-width="5.3"/>
<line x1="486.4" y1="710.5" x2="486.4" y2="719.9" stroke="#000" stroke-width="5.3"/>
<line x1="514.9" y1="27.7" x2="514.9" y2="18.3" stroke="#000" stroke-width="5.3"/>
<line x1="514.9" y1="710.5" x2="514.9" y2="719.9" stroke="#000" stroke-width="5.3"/>
<line x1="543.4" y1="27.7" x2="543.4" y2="18.3" stroke="#000" stroke-width="5.3"/>
<line x1="543.4" y1="710.5" x2="543.4" y2="719.9" stroke="#000" stroke-width="5.3"/>
<line x1="571.9" y1="27.7" x2="571.9" y2="8.5" stroke="#000" stroke-width="5.3"/>
<line x1="571.9" y1="710.5" x2="571.9" y2="729.7" stroke="#000" stroke-width="5.3"/>
<line x1="600.4" y1="27.7" x2="600.4" y2="18.3" stroke="#000" stroke-width="5.3"/>
<line x1="600.4" y1="710.5" x2="600.4" y2="719.9" stroke="#000" stroke-width="5.3"/>
<line x1="628.9" y1="27.7" x2="628.9" y2="18.3" stroke="#000" stroke-width="5.3"/>
<line x1="628.9" y1="710.5" x2="628.9" y2="719.9" stroke="#000" stroke-width="5.3"/>
<line x1="657.3" y1="27.7" x2="657.3" y2="18.3" stroke="#000" stroke-width="5.3"/>
<line x1="657.3" y1="710.5" x2="657.3" y2="719.9" stroke="#000" stroke-width="5.3"/>
<line x1="685.8" y1="27.7" x2="685.8" y2="8.5" stroke="#000" stroke-width="5.3"/>
<line x1="685.8" y1="710.5" x2="685.8" y2="729.7" stroke="#000" stroke-width="5.3"/>
<line x1="714.3" y1="27.7" x2="714.3" y2="18.3" stroke="#000" stroke-width="5.3"/>
<line x1="714.3" y1="710.5" x2="714.3" y2="719.9" stroke="#000" stroke-width="5.3"/>
<line x1="742.8" y1="27.7" x2="742.8" y2="18.3" stroke="#000" stroke-width="5.3"/>
<line x1="742.8" y1="710.5" x2="742.8" y2="719.9" stroke="#000" stroke-width="5.3"/>
<line x1="771.3" y1="27.7" x2="771.3" y2="18.3" stroke="#000" stroke-width="5.3"/>
<line x1="771.3" y1="710.5" x2="771.3" y2="719.9" stroke="#000" stroke-width="5.3"/>
<line x1="799.8" y1="27.7" x2="799.8" y2="8.5" stroke="#000" stroke-width="5.3"/>
<line x1="799.8" y1="710.5" x2="799.8" y2="729.7" stroke="#000" stroke-width="5.3"/>
<line x1="116" y1="27.7" x2="96.8" y2="27.7" stroke="#000" stroke-width="5.3"/>
<line x1="799.8" y1="27.7" x2="819" y2="27.7" stroke="#000" stroke-width="5.3"/>
<line x1="116" y1="47.2" x2="106.6" y2="47.2" stroke="#000" stroke-width="5.3"/>
<line x1="799.8" y1="47.2" x2="809.2" y2="47.2" stroke="#000" stroke-width="5.3"/>
<line x1="116" y1="66.7" x2="106.6" y2="66.7" stroke="#000" stroke-width="5.3"/>
<line x1="799.8" y1="66.7" x2="809.2" y2="66.7" stroke="#000" stroke-width="5.3"/>
<line x1="116" y1="86.2" x2="106.6" y2="86.2" stroke="#000" stroke-width="5.3"/>
<line x1="799.8" y1="86.2" x2="809.2" y2="86.2" stroke="#000" stroke-width="5.3"/>
<line x1="116" y1="105.7" x2="106.6" y2="105.7" stroke="#000" stroke-width="5.3"/>
<line x1="799.8" y1="105.7" x2="809.2" y2="105.7" stroke="#000" stroke-width="5.3"/>
<line x1="116" y1="125.2" x2="96.8" y2="125.2" stroke="#000" stroke-width="5.3"/>
<line x1="799.8" y1="125.2" x2="819" y2="125.2" stroke="#000" stroke-width="5.3"/>
<line x1="116" y1="144.8" x2="106.6" y2="144.8" stroke="#000" stroke-width="5.3"/>
<line x1="799.8" y1="144.8" x2="809.2" y2="144.8" stroke="#000" stroke-width="5.3"/>
<line x1="116" y1="164.3" x2="106.6" y2="164.3" stroke="#000" stroke-width="5.3"/>
<line x1="799.8" y1="164.3" x2="809.2" y2="164.3" stroke="#000" stroke-width="5.3"/>
<line x1="116" y1="183.8" x2="106.6" y2="183.8" stroke="#000" stroke-width="5.3"/>
<line x1="799.8" y1="183.8" x2="809.2" y2="183.8" stroke="#000" stroke-width="5.3"/>
<line x1="116" y1="203.3" x2="106.6" y2="203.3" stroke="#000" stroke-width="5.3"/>
<line x1="799.8" y1="203.3" x2="809.2" y2="203.3" stroke="#000" stroke-width="5.3"/>
<line x1="116" y1="222.8" x2="96.8" y2="222.8" stroke="#000" stroke-width="5.3"/>
<line x1="799.8" y1="222.8" x2="819" y2="222.8" stroke="#000" stroke-width="5.3"/>
<line x1="116" y1="242.3" x2="106.6" y2="242.3" stroke="#000" stroke-width="5.3"/>
<line x1="799.8" y1="242.3" x2="809.2" y2="242.3" stroke="#000" stroke-width="5.3"/>
<line x1="116" y1="261.8" x2="106.6" y2="261.8" stroke="#000" stroke-width="5.3"/>
<line x1="799.8" y1="261.8" x2="809.2" y2="261.8" stroke="#000" stroke-width="5.3"/>
<line x1="116" y1="281.3" x2="106.6" y2="281.3" stroke="#000" stroke-width="5.3"/>
<line x1="799.8" y1="281.3" x2="809.2" y2="281.3" stroke="#000" stroke-width="5.3"/>
<line x1="116" y1="300.8" x2="106.6" y2="300.8" stroke="#000" stroke-width="5.3"/>
<line x1="799.8" y1="300.8" x2="809.2" y2="300.8" stroke="#000" stroke-width="5.3"/>
<line x1="116" y1="320.3" x2="96.8" y2="320.3" stroke="#000" stroke-width="5.3"/>
<line x1="799.8" y1="320.3" x2="819" y2="320.3" stroke="#000" stroke-width="5.3"/>
<line x1="116" y1="339.8" x2="106.6" y2="339.8" stroke="#000" stroke-width="5.3"/>
<line x1="799.8" y1="339.8" x2="809.2" y2="339.8" stroke="#000" stroke-width="5.3"/>
<line x1="116" y1="359.3" x2="106.6" y2="359.3" stroke="#000" stroke-width="5.3"/>
<line x1="799.8" y1="359.3" x2="809.2" y2="359.3" stroke="#000" stroke-width="5.3"/>
<line x1="116" y1="378.9" x2="106.6" y2="378.9" stroke="#000" stroke-width="5.3"/>
<line x1="799.8" y1="378.9" x2="809.2" y2="378.9" stroke="#000" stroke-width="5.3"/>
<line x1="116" y1="398.4" x2="106.6" y2="398.4" stroke="#000" stroke-width="5.3"/>
<line x1="799.8" y1="398.4" x2="809.2" y2="398.4" stroke="#000" stroke-width="5.3"/>
<line x1="116" y1="417.9" x2="96.8" y2="417.9" stroke="#000" stroke-width="5.3"/>
<line x1="799.8" y1="417.9" x2="819" y2="417.9" stroke="#000" stroke-width="5.3"/>
<line x1="116" y1="437.4" x2="106.6" y2="437.4" stroke="#000" stroke-width="5.3"/>
<line x1="799.8" y1="437.4" x2="809.2" y2="437.4" stroke="#000" stroke-width="5.3"/>
<line x1="116" y1="456.9" x2="106.6" y2="456.9" stroke="#000" stroke-width="5.3"/>
<line x1="799.8" y1="456.9" x2="809.2" y2="456.9" stroke="#000" stroke-width="5.3"/>
<line x1="116" y1="476.4" x2="106.6" y2="476.4" stroke="#000" stroke-width="5.3"/>
<line x1="799.8" y1="476.4" x2="809.2" y2="476.4" stroke="#000" stroke-width="5.3"/>
<line x1="116" y1="495.9" x2="106.6" y2="495.9" stroke="#000" stroke-width="5.3"/>
<line x1="799.8" y1="495.9" x2="809.2" y2="495.9" stroke="#000" stroke-width="5.3"/>
<line x1="116" y1="515.4" x2="96.8" y2="515.4" stroke="#000" stroke-width="5.3"/>
<line x1="799.8" y1="515.4" x2="819" y2="515.4" stroke="#000" stroke-width="5.3"/>
<line x1="116" y1="534.9" x2="106.6" y2="534.9" stroke="#000" stroke-width="5.3"/>
<line x1="799.8" y1="534.9" x2="809.2" y2="534.9" stroke="#000" stroke-width="5.3"/>
<line x1="116" y1="554.4" x2="106.6" y2="554.4" stroke="#000" stroke-width="5.3"/>
<line x1="799.8" y1="554.4" x2="809.2" y2="554.4" stroke="#000" stroke-width="5.3"/>
<line x1="116" y1="573.9" x2="106.6" y2="573.9" stroke="#000" stroke-width="5.3"/>
<line x1="799.8" y1="573.9" x2="809.2" y2="573.9" stroke="#000" stroke-width="5.3"/>
<line x1="116" y1="593.4" x2="106.6" y2="593.4" stroke="#000" stroke-width="5.3"/>
<line x1="799.8" y1="593.4" x2="809.2" y2="593.4" stroke="#000" stroke-width="5.3"/>
<line x1="116" y1="613" x2="96.8" y2="613" stroke="#000" stroke-width="5.3"/>
<line x1="799.8" y1="613" x2="819" y2="613" stroke="#000" stroke-width="5.3"/>
<line x1="116" y1="632.5" x2="106.6" y2="632.5" stroke="#000" stroke-width="5.3"/>
<line x1="799.8" y1="632.5" x2="809.2" y2="632.5" stroke="#000" stroke-width="5.3"/>
<line x1="116" y1="652" x2="106.6" y2="652" stroke="#000" stroke-width="5.3"/>
<line x1="799.8" y1="652" x2="809.2" y2="652" stroke="#000" stroke-width="5.3"/>
<line x1="116" y1="671.5" x2="106.6" y2="671.5" stroke="#000" stroke-width="5.3"/>
<line x1="799.8" y1="671.5" x2="809.2" y2="671.5" stroke="#000" stroke-width="5.3"/>
<line x1="116" y1="691" x2="106.6" y2="691" stroke="#000" stroke-width="5.3"/>
<line x1="799.8" y1="691" x2="809.2" y2="691" stroke="#000" stroke-width="5.3"/>
<line x1="116" y1="710.5" x2="96.8" y2="710.5" stroke="#000" stroke-width="5.3"/>
<line x1="799.8" y1="710.5" x2="819" y2="710.5" stroke="#000" stroke-width="5.3"/>
<rect x="116" y="27.7" width="683.8" height="682.8" fill="none" stroke="#000" stroke-width="5.7"/>
<line x1="1006.2" y1="27.7" x2="1006.2" y2="8.5" stroke="#000" stroke-width="5.3"/>
<line x1="1006.2" y1="710.5" x2="1006.2" y2="729.7" stroke="#000" stroke-width="5.3"/>
<line x1="1040.3" y1="27.7" x2="1040.3" y2="18.3" stroke="#000" stroke-width="5.3"/>
<line x1="1040.3" y1="710.5" x2="1040.3" y2="719.9" stroke="#000" stroke-width="5.3"/>
<line x1="1074.5" y1="27.7" x2="1074.5" y2="8.5" stroke="#000" stroke-width="5.3"/>
<line x1="1074.5" y1="710.5" x2="1074.5" y2="729.7" stroke="#000" stroke-width="5.3"/>
<line x1="1108.6" y1="27.7" x2="1108.6" y2="18.3" stroke="#000" stroke-width="5.3"/>
<line x1="1108.6" y1="710.5" x2="1108.6" y2="719.9" stroke="#000" stroke-width="5.3"/>
<line x1="1142.8" y1="27.7" x2="1142.8" y2="8.5" stroke="#000" stroke-width="5.3"/>
<line x1="1142.8" y1="710.5" x2="1142.8" y2="729.7" stroke="#000" stroke-width="5.3"/>
<line x1="1176.9" y1="27.7" x2="1176.9" y2="18.3" stroke="#000" stroke-width="5.3"/>
<line x1="1176.9" y1="710.5" x2="1176.9" y2="719.9" stroke="#000" stroke-width="5.3"/>
<line x1="1211" y1="27.7" x2="1211" y2="8.5" stroke="#000" stroke-width="5.3"/>
<line x1="1211" y1="710.5" x2="1211" y2="729.7" stroke="#000" stroke-width="5.3"/>
<line x1="1245.2" y1="27.7" x2="1245.2" y2="18.3" stroke="#000" stroke-width="5.3"/>
<line x1="1245.2" y1="710.5" x2="1245.2" y2="719.9" stroke="#000" stroke-width="5.3"/>
<line x1="1279.3" y1="27.7" x2="1279.3" y2="8.5" stroke="#000" stroke-width="5.3"/>
<line x1="1279.3" y1="710.5" x2="1279.3" y2="729.7" stroke="#000" stroke-width="5.3"/>
<line x1="1313.5" y1="27.7" x2="1313.5" y2="18.3" stroke="#000" stroke-width="5.3"/>
<line x1="1313.5" y1="710.5" x2="1313.5" y2="719.9" stroke="#000" stroke-width="5.3"/>
<line x1="1347.6" y1="27.7" x2="1347.6" y2="8.5" stroke="#000" stroke-width="5.3"/>
<line x1="1347.6" y1="710.5" x2="1347.6" y2="729.7" stroke="#000" stroke-width="5.3"/>
<line x1="1381.7" y1="27.7" x2="1381.7" y2="18.3" stroke="#000" stroke-width="5.3"/>
<line x1="1381.7" y1="710.5" x2="1381.7" y2="719.9" stroke="#000" stroke-width="5.3"/>
<line x1="1415.9" y1="27.7" x2="1415.9" y2="8.5" stroke="#000" stroke-width="5.3"/>
<line x1="1415.9" y1="710.5" x2="1415.9" y2="729.7" stroke="#000" stroke-width="5.3"/>
<line x1="1450" y1="27.7" x2="1450" y2="18.3" stroke="#000" stroke-width="5.3"/>
<line x1="1450" y1="710.5" x2="1450" y2="719.9" stroke="#000" stroke-width="5.3"/>
<line x1="1484.2" y1="27.7" x2="1484.2" y2="8.5" stroke="#000" stroke-width="5.3"/>
<line x1="1484.2" y1="710.5" x2="1484.2" y2="729.7" stroke="#000" stroke-width="5.3"/>
<line x1="1518.3" y1="27.7" x2="1518.3" y2="18.3" stroke="#000" stroke-width="5.3"/>
<line x1="1518.3" y1="710.5" x2="1518.3" y2="719.9" stroke="#000" stroke-width="5.3"/>
<line x1="1552.4" y1="27.7" x2="1552.4" y2="8.5" stroke="#000" stroke-width="5.3"/>
<line x1="1552.4" y1="710.5" x2="1552.4" y2="729.7" stroke="#000" stroke-width="5.3"/>
<line x1="1586.6" y1="27.7" x2="1586.6" y2="18.3" stroke="#000" stroke-width="5.3"/>
<line x1="1586.6" y1="710.5" x2="1586.6" y2="719.9" stroke="#000" stroke-width="5.3"/>
<line x1="1620.7" y1="27.7" x2="1620.7" y2="8.5" stroke="#000" stroke-width="5.3"/>
<line x1="1620.7" y1="710.5" x2="1620.7" y2="729.7" stroke="#000" stroke-width="5.3"/>
<line x1="1654.9" y1="27.7" x2="1654.9" y2="18.3" stroke="#000" stroke-width="5.3"/>
<line x1="1654.9" y1="710.5" x2="1654.9" y2="719.9" stroke="#000" stroke-width="5.3"/>
<line x1="1689" y1="27.7" x2="1689" y2="8.5" stroke="#000" stroke-width="5.3"/>
<line x1="1689" y1="710.5" x2="1689" y2="729.7" stroke="#000" stroke-width="5.3"/>
<line x1="1006.2" y1="27.7" x2="987" y2="27.7" stroke="#000" stroke-width="5.3"/>
<line x1="1689" y1="27.7" x2="1708.2" y2="27.7" stroke="#000" stroke-width="5.3"/>
<line x1="1006.2" y1="61.8" x2="996.8" y2="61.8" stroke="#000" stroke-width="5.3"/>
<line x1="1689" y1="61.8" x2="1698.4" y2="61.8" stroke="#000" stroke-width="5.3"/>
<line x1="1006.2" y1="96" x2="987" y2="96" stroke="#000" stroke-width="5.3"/>
<line x1="1689" y1="96" x2="1708.2" y2="96" stroke="#000" stroke-width="5.3"/>
<line x1="1006.2" y1="130.1" x2="996.8" y2="130.1" stroke="#000" stroke-width="5.3"/>
<line x1="1689" y1="130.1" x2="1698.4" y2="130.1" stroke="#000" stroke-width="5.3"/>
<line x1="1006.2" y1="164.3" x2="987" y2="164.3" stroke="#000" stroke-width="5.3"/>
<line x1="1689" y1="164.3" x2="1708.2" y2="164.3" stroke="#000" stroke-width="5.3"/>
<line x1="1006.2" y1="198.4" x2="996.8" y2="198.4" stroke="#000" stroke-width="5.3"/>
<line x1="1689" y1="198.4" x2="1698.4" y2="198.4" stroke="#000" stroke-width="5.3"/>
<line x1="1006.2" y1="232.5" x2="987" y2="232.5" stroke="#000" stroke-width="5.3"/>
<line x1="1689" y1="232.5" x2="1708.2" y2="232.5" stroke="#000" stroke-width="5.3"/>
<line x1="1006.2" y1="266.7" x2="996.8" y2="266.7" stroke="#000" stroke-width="5.3"/>
<line x1="1689" y1="266.7" x2="1698.4" y2="266.7" stroke="#000" stroke-width="5.3"/>
<line x1="1006.2" y1="300.8" x2="987" y2="300.8" stroke="#000" stroke-width="5.3"/>
<line x1="1689" y1="300.8" x2="1708.2" y2="300.8" stroke="#000" stroke-width="5.3"/>
<line x1="1006.2" y1="335" x2="996.8" y2="335" stroke="#000" stroke-width="5.3"/>
<line x1="1689" y1="335" x2="1698.4" y2="335" stroke="#000" stroke-width="5.3"/>
<line x1="1006.2" y1="369.1" x2="987" y2="369.1" stroke="#000" stroke-width="5.3"/>
<line x1="1689" y1="369.1" x2="1708.2" y2="369.1" stroke="#000" stroke-width="5.3"/>
<line x1="1006.2" y1="403.2" x2="996.8" y2="403.2" stroke="#000" stroke-width="5.3"/>
<line x1="1689" y1="403.2" x2="1698.4" y2="403.2" stroke="#000" stroke-width="5.3"/>
<line x1="1006.2" y1="437.4" x2="987" y2="437.4" stroke="#000" stroke-width="5.3"/>
<line x1="1689" y1="437.4" x2="1708.2" y2="437.4" stroke="#000" stroke-width="5.3"/>
<line x1="1006.2" y1="471.5" x2="996.8" y2="471.5" stroke="#000" stroke-width="5.3"/>
<line x1="1689" y1="471.5" x2="1698.4" y2="471.5" stroke="#000" stroke-width="5.3"/>
<line x1="1006.2" y1="505.7" x2="987" y2="505.7" stroke="#000" stroke-width="5.3"/>
<line x1="1689" y1="505.7" x2="1708.2" y2="505.7" stroke="#000" stroke-width="5.3"/>
<line x1="1006.2" y1="539.8" x2="996.8" y2="539.8" stroke="#000" stroke-width="5.3"/>
<line x1="1689" y1="539.8" x2="1698.4" y2="539.8" stroke="#000" stroke-width="5.3"/>
<line x1="1006.2" y1="573.9" x2="987" y2="573.9" stroke="#000" stroke-width="5.3"/>
<line x1="1689" y1="573.9" x2="1708.2" y2="573.9" stroke="#000" stroke-width="5.3"/>
<line x1="1006.2" y1="608.1" x2="996.8" y2="608.1" stroke="#000" stroke-width="5.3"/>
<line x1="1689" y1="608.1" x2="1698.4" y2="608.1" stroke="#000" stroke-width="5.3"/>
<line x1="1006.2" y1="642.2" x2="987" y2="642.2" stroke="#000" stroke-width="5.3"/>
<line x1="1689" y1="642.2" x2="1708.2" y2="642.2" stroke="#000" stroke-width="5.3"/>
<line x1="1006.2" y1="676.4" x2="996.8" y2="676.4" stroke="#000" stroke-width="5.3"/>
<line x1="1689" y1="676.4" x2="1698.4" y2="676.4" stroke="#000" stroke-width="5.3"/>
<line x1="1006.2" y1="710.5" x2="987" y2="710.5" stroke="#000" stroke-width="5.3"/>
<line x1="1689" y1="710.5" x2="1708.2" y2="710.5" stroke="#000" stroke-width="5.3"/>
<rect x="1006.2" y="27.7" width="682.8" height="682.8" fill="none" stroke="#000" stroke-width="5.7"/>
<text x="83" y="38.6" font-size="35.2" fill="#1a1a1a" text-anchor="end" textLength="58.5" lengthAdjust="spacingAndGlyphs">0.58</text>
<text x="83" y="722" font-size="35.2" fill="#1a1a1a" text-anchor="end" textLength="75.2" lengthAdjust="spacingAndGlyphs">0.545</text>
<text x="116.5" y="767.5" font-size="35.2" fill="#1a1a1a" text-anchor="middle" textLength="58.5" lengthAdjust="spacingAndGlyphs">1.12</text>
<text x="799.5" y="767.5" font-size="35.2" fill="#1a1a1a" text-anchor="middle" textLength="58.5" lengthAdjust="spacingAndGlyphs">1.24</text>
<text x="453.4" y="767.9" font-size="34" fill="#1a1a1a" text-anchor="middle" >a</text>
<text x="59.2" y="370.1" font-size="34" fill="#1a1a1a" text-anchor="middle" >b</text>
<text x="972.5" y="38.6" font-size="35.2" fill="#1a1a1a" text-anchor="end" textLength="91.8" lengthAdjust="spacingAndGlyphs">0.1902</text>
<text x="972.5" y="722" font-size="35.2" fill="#1a1a1a" text-anchor="end" textLength="91.8" lengthAdjust="spacingAndGlyphs">0.1882</text>
<text x="1006.5" y="767.5" font-size="35.2" fill="#1a1a1a" text-anchor="middle" textLength="58.5" lengthAdjust="spacingAndGlyphs">1.69</text>
<text x="1689" y="767.5" font-size="35.2" fill="#1a1a1a" text-anchor="middle" textLength="58.5" lengthAdjust="spacingAndGlyphs">1.71</text>
<text x="1343" y="767.9" font-size="34" fill="#1a1a1a" text-anchor="middle" >a</text>
<text x="948.2" y="370.1" font-size="34" fill="#1a1a1a" text-anchor="middle" >b</text>
<rect x="113.6" y="792.9" width="689.1" height="39.3" fill="#000"/>
<rect x="119.2" y="799.2" width="34.6" height="27.8" fill="#0000FF"/>
<text x="136.5" y="823.4" font-size="30.7" fill="#fff" text-anchor="middle" >1</text>
<rect x="159.4" y="799.2" width="34.6" height="27.8" fill="#00FF00"/>
<text x="176.7" y="823.4" font-size="30.7" fill="#000" text-anchor="middle" >2</text>
<rect x="199.6" y="799.2" width="34.6" height="27.8" fill="#00FFFF"/>
<text x="216.9" y="823.4" font-size="30.7" fill="#000" text-anchor="middle" >3</text>
<rect x="239.8" y="799.2" width="34.6" height="27.8" fill="#FF0000"/>
<text x="257.1" y="823.4" font-size="30.7" fill="#fff" text-anchor="middle" >4</text>
<rect x="280" y="799.2" width="34.6" height="27.8" fill="#FF00FF"/>
<text x="297.3" y="823.4" font-size="30.7" fill="#fff" text-anchor="middle" >5</text>
<rect x="320.2" y="799.2" width="34.6" height="27.8" fill="#A8580C"/>
<text x="337.5" y="823.4" font-size="30.7" fill="#fff" text-anchor="middle" >6</text>
<rect x="360.4" y="799.2" width="34.6" height="27.8" fill="#BBBBBB"/>
<text x="377.7" y="823.4" font-size="30.7" fill="#000" text-anchor="middle" >7</text>
<rect x="400.6" y="799.2" width="34.6" height="27.8" fill="#FFFF00"/>
<text x="417.9" y="823.4" font-size="30.7" fill="#000" text-anchor="middle" >8</text>
<rect x="440.8" y="799.2" width="34.6" height="27.8" fill="#CC0000"/>
<text x="458.1" y="823.4" font-size="30.7" fill="#fff" text-anchor="middle" >9</text>
<rect x="481" y="799.2" width="34.6" height="27.8" fill="#7A58FF"/>
<text x="498.3" y="823.4" font-size="30.7" fill="#fff" text-anchor="middle" textLength="29" lengthAdjust="spacingAndGlyphs">10</text>
<rect x="521.2" y="799.2" width="34.6" height="27.8" fill="#99FF99"/>
<text x="538.5" y="823.4" font-size="30.7" fill="#000" text-anchor="middle" textLength="29" lengthAdjust="spacingAndGlyphs">11</text>
<rect x="561.4" y="799.2" width="34.6" height="27.8" fill="#FFCC99"/>
<text x="578.7" y="823.4" font-size="30.7" fill="#000" text-anchor="middle" textLength="29" lengthAdjust="spacingAndGlyphs">12</text>
<rect x="601.6" y="799.2" width="34.6" height="27.8" fill="#FF0A96"/>
<text x="618.9" y="823.4" font-size="30.7" fill="#000" text-anchor="middle" textLength="29" lengthAdjust="spacingAndGlyphs">13</text>
<rect x="641.8" y="799.2" width="34.6" height="27.8" fill="#00AA00"/>
<text x="659.1" y="823.4" font-size="30.7" fill="#000" text-anchor="middle" textLength="29" lengthAdjust="spacingAndGlyphs">14</text>
<rect x="682" y="799.2" width="34.6" height="27.8" fill="#FF8010"/>
<text x="699.3" y="823.4" font-size="30.7" fill="#000" text-anchor="middle" textLength="29" lengthAdjust="spacingAndGlyphs">15</text>
<rect x="722.2" y="799.2" width="34.6" height="27.8" fill="#10B8FF"/>
<text x="739.5" y="823.4" font-size="30.7" fill="#000" text-anchor="middle" textLength="29" lengthAdjust="spacingAndGlyphs">16</text>
<rect x="762.4" y="799.2" width="34.6" height="27.8" fill="#C8C810"/>
<text x="779.7" y="823.4" font-size="30.7" fill="#000" text-anchor="middle" textLength="29" lengthAdjust="spacingAndGlyphs">17</text>
<rect x="1002.9" y="792.9" width="689.1" height="39.3" fill="#000"/>
<rect x="1008.5" y="799.2" width="34.6" height="27.8" fill="#0000FF"/>
<text x="1025.8" y="823.4" font-size="30.7" fill="#fff" text-anchor="middle" >1</text>
<rect x="1048.7" y="799.2" width="34.6" height="27.8" fill="#00FF00"/>
<text x="1066" y="823.4" font-size="30.7" fill="#000" text-anchor="middle" >2</text>
<rect x="1088.9" y="799.2" width="34.6" height="27.8" fill="#00FFFF"/>
<text x="1106.2" y="823.4" font-size="30.7" fill="#000" text-anchor="middle" >3</text>
<rect x="1129.1" y="799.2" width="34.6" height="27.8" fill="#FF0000"/>
<text x="1146.4" y="823.4" font-size="30.7" fill="#fff" text-anchor="middle" >4</text>
<rect x="1169.3" y="799.2" width="34.6" height="27.8" fill="#FF00FF"/>
<text x="1186.6" y="823.4" font-size="30.7" fill="#fff" text-anchor="middle" >5</text>
<rect x="1209.5" y="799.2" width="34.6" height="27.8" fill="#A8580C"/>
<text x="1226.8" y="823.4" font-size="30.7" fill="#fff" text-anchor="middle" >6</text>
<rect x="1249.7" y="799.2" width="34.6" height="27.8" fill="#BBBBBB"/>
<text x="1267" y="823.4" font-size="30.7" fill="#000" text-anchor="middle" >7</text>
<rect x="1289.9" y="799.2" width="34.6" height="27.8" fill="#FFFF00"/>
<text x="1307.2" y="823.4" font-size="30.7" fill="#000" text-anchor="middle" >8</text>
<rect x="1330.1" y="799.2" width="34.6" height="27.8" fill="#CC0000"/>
<text x="1347.4" y="823.4" font-size="30.7" fill="#fff" text-anchor="middle" >9</text>
<rect x="1370.3" y="799.2" width="34.6" height="27.8" fill="#7A58FF"/>
<text x="1387.6" y="823.4" font-size="30.7" fill="#fff" text-anchor="middle" textLength="29" lengthAdjust="spacingAndGlyphs">10</text>
<rect x="1410.5" y="799.2" width="34.6" height="27.8" fill="#99FF99"/>
<text x="1427.8" y="823.4" font-size="30.7" fill="#000" text-anchor="middle" textLength="29" lengthAdjust="spacingAndGlyphs">11</text>
<rect x="1450.7" y="799.2" width="34.6" height="27.8" fill="#FFCC99"/>
<text x="1468" y="823.4" font-size="30.7" fill="#000" text-anchor="middle" textLength="29" lengthAdjust="spacingAndGlyphs">12</text>
<rect x="1490.9" y="799.2" width="34.6" height="27.8" fill="#FF0A96"/>
<text x="1508.2" y="823.4" font-size="30.7" fill="#000" text-anchor="middle" textLength="29" lengthAdjust="spacingAndGlyphs">13</text>
<rect x="1531.1" y="799.2" width="34.6" height="27.8" fill="#00AA00"/>
<text x="1548.4" y="823.4" font-size="30.7" fill="#000" text-anchor="middle" textLength="29" lengthAdjust="spacingAndGlyphs">14</text>
<rect x="1571.3" y="799.2" width="34.6" height="27.8" fill="#FF8010"/>
<text x="1588.6" y="823.4" font-size="30.7" fill="#000" text-anchor="middle" textLength="29" lengthAdjust="spacingAndGlyphs">15</text>
<rect x="1611.5" y="799.2" width="34.6" height="27.8" fill="#10B8FF"/>
<text x="1628.8" y="823.4" font-size="30.7" fill="#000" text-anchor="middle" textLength="29" lengthAdjust="spacingAndGlyphs">16</text>
<rect x="1651.7" y="799.2" width="34.6" height="27.8" fill="#C8C810"/>
<text x="1669" y="823.4" font-size="30.7" fill="#000" text-anchor="middle" textLength="29" lengthAdjust="spacingAndGlyphs">17</text>
</svg>
</body></html>
